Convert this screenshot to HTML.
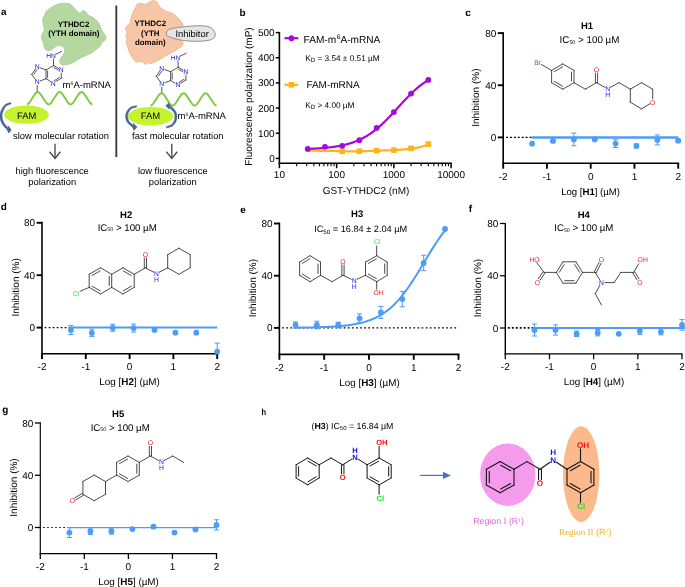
<!DOCTYPE html>
<html><head><meta charset="utf-8"><title>figure</title>
<style>html,body{margin:0;padding:0;background:#fff}svg{display:block;will-change:transform}text{font-family:"Liberation Sans",sans-serif}</style>
</head><body>
<svg width="685" height="587" viewBox="0 0 685 587" text-rendering="geometricPrecision" font-family="Liberation Sans, sans-serif">
<rect width="685" height="587" fill="#fff"/>
<text x="0.90" y="15.10" font-size="9.9" text-anchor="start" font-weight="bold" fill="#000" >a</text>
<path d="M57.1,4.5C58.4,4.0 59.1,3.8 60.6,3.6C62.1,3.4 64.4,3.2 66.0,3.3C67.6,3.4 69.2,3.8 70.2,4.2C71.2,4.7 71.5,5.3 72.2,6.0C72.9,6.7 73.5,7.3 74.3,8.1C75.0,8.8 75.9,9.7 76.7,10.5C77.5,11.3 78.5,12.7 79.3,12.9C80.1,13.1 80.8,12.3 81.5,11.9C82.2,11.5 82.9,10.5 83.6,10.5C84.3,10.5 85.1,11.2 85.7,11.9C86.3,12.6 86.7,13.8 87.4,14.5C88.1,15.2 89.1,15.5 90.1,16.1C91.1,16.7 92.2,17.1 93.4,17.9C94.6,18.7 96.0,19.8 97.0,20.9C98.0,22.0 98.8,23.1 99.4,24.4C100.0,25.7 100.2,27.3 100.8,28.6C101.4,29.9 102.2,31.0 102.9,32.2C103.7,33.4 104.8,34.8 105.3,35.8C105.8,36.8 106.1,37.5 105.9,38.4C105.7,39.3 104.8,40.5 104.1,41.1C103.4,41.8 102.2,41.7 101.7,42.3C101.2,42.9 101.2,43.9 100.8,44.7C100.4,45.5 100.0,46.5 99.4,47.1C98.8,47.8 97.8,48.0 97.0,48.6C96.2,49.2 95.5,50.0 94.6,50.7C93.7,51.4 92.6,52.4 91.6,53.0C90.6,53.6 89.7,53.7 88.6,54.2C87.5,54.7 86.2,55.3 85.1,55.8C84.0,56.3 83.2,56.7 82.1,57.2C81.0,57.7 79.7,58.3 78.5,59.0C77.3,59.7 76.1,60.7 74.9,61.4C73.7,62.1 72.7,62.7 71.4,63.2C70.1,63.7 68.6,64.3 67.2,64.6C65.8,64.9 64.1,65.1 63.0,65.0C61.9,64.9 61.1,64.5 60.6,63.8C60.1,63.1 59.6,61.9 59.8,60.8C59.9,59.7 60.9,58.3 61.5,57.2C62.1,56.1 63.1,55.2 63.6,54.2C64.2,53.2 64.7,52.3 64.8,51.3C64.9,50.3 64.6,49.1 64.2,48.3C63.8,47.4 63.0,46.7 62.2,46.2C61.4,45.7 60.4,45.3 59.4,45.3C58.4,45.2 57.5,45.4 56.5,45.9C55.5,46.4 54.5,47.6 53.5,48.3C52.5,49.0 51.5,49.7 50.5,50.1C49.5,50.5 48.4,50.9 47.5,50.7C46.6,50.5 45.7,49.7 45.1,48.9C44.5,48.1 44.2,47.0 43.9,45.9C43.6,44.8 43.6,43.4 43.3,42.3C43.0,41.2 42.2,40.4 41.9,39.3C41.6,38.2 41.4,37.0 41.6,35.8C41.8,34.6 42.6,33.3 43.1,32.2C43.6,31.1 44.4,30.2 44.5,29.2C44.6,28.2 43.8,27.2 43.6,26.2C43.4,25.2 43.2,24.3 43.1,23.2C43.0,22.1 42.6,20.8 42.7,19.7C42.8,18.6 43.2,17.6 43.6,16.7C44.0,15.8 44.7,15.2 45.1,14.3C45.5,13.4 45.6,12.2 46.3,11.3C47.0,10.4 48.2,9.7 49.3,8.9C50.4,8.1 51.6,7.3 52.9,6.6C54.2,5.9 55.8,5.0 57.1,4.5Z" fill="#b5d8a1" stroke="#a5cf90" stroke-width="0.9"/>
<text x="73.60" y="26.60" font-size="7.9" text-anchor="middle" font-weight="bold" fill="#000" >YTHDC2</text>
<text x="73.80" y="36.30" font-size="7.9" text-anchor="middle" font-weight="bold" fill="#000" >(YTH domain)</text>
<line x1="53.40" y1="58.80" x2="53.60" y2="65.50" stroke="#2b2b2b" stroke-width="0.8" stroke-linecap="round"/>
<line x1="55.80" y1="54.30" x2="61.60" y2="51.40" stroke="#2b2b2b" stroke-width="0.8" stroke-linecap="round"/>
<line x1="53.60" y1="65.50" x2="61.30" y2="69.90" stroke="#2b2b2b" stroke-width="0.8" stroke-linecap="round"/>
<line x1="53.88" y1="67.51" x2="59.43" y2="70.67" stroke="#2b2b2b" stroke-width="0.8" stroke-linecap="round"/>
<line x1="53.60" y1="65.50" x2="61.30" y2="69.90" stroke="#fff" stroke-width="0" stroke-linecap="round"/>
<line x1="61.30" y1="72.70" x2="61.30" y2="78.20" stroke="#2b2b2b" stroke-width="0.8" stroke-linecap="round"/>
<line x1="61.30" y1="78.20" x2="53.30" y2="83.10" stroke="#2b2b2b" stroke-width="0.8" stroke-linecap="round"/>
<line x1="59.34" y1="77.52" x2="53.58" y2="81.05" stroke="#2b2b2b" stroke-width="0.8" stroke-linecap="round"/>
<line x1="50.73" y1="81.55" x2="46.00" y2="78.70" stroke="#2b2b2b" stroke-width="0.8" stroke-linecap="round"/>
<line x1="46.00" y1="78.70" x2="46.00" y2="69.90" stroke="#2b2b2b" stroke-width="0.8" stroke-linecap="round"/>
<line x1="47.60" y1="77.47" x2="47.60" y2="71.13" stroke="#2b2b2b" stroke-width="0.8" stroke-linecap="round"/>
<line x1="46.00" y1="69.90" x2="53.60" y2="65.50" stroke="#2b2b2b" stroke-width="0.8" stroke-linecap="round"/>
<line x1="46.00" y1="69.90" x2="40.02" y2="67.73" stroke="#2b2b2b" stroke-width="0.8" stroke-linecap="round"/>
<line x1="37.20" y1="66.70" x2="31.70" y2="74.30" stroke="#2b2b2b" stroke-width="0.8" stroke-linecap="round"/>
<line x1="37.73" y1="68.70" x2="33.77" y2="74.17" stroke="#2b2b2b" stroke-width="0.8" stroke-linecap="round"/>
<line x1="31.70" y1="74.30" x2="35.46" y2="79.56" stroke="#2b2b2b" stroke-width="0.8" stroke-linecap="round"/>
<line x1="40.01" y1="80.95" x2="46.00" y2="78.70" stroke="#2b2b2b" stroke-width="0.8" stroke-linecap="round"/>
<line x1="37.20" y1="85.20" x2="37.20" y2="91.50" stroke="#2b2b2b" stroke-width="0.8" stroke-linecap="round"/>
<circle cx="61.30" cy="69.90" r="2.7" fill="#fff"/>
<text x="61.30" y="72.35" font-size="6.8" text-anchor="middle" font-weight="normal" fill="#1818f5" >N</text>
<circle cx="53.30" cy="83.10" r="2.7" fill="#fff"/>
<text x="53.30" y="85.55" font-size="6.8" text-anchor="middle" font-weight="normal" fill="#1818f5" >N</text>
<circle cx="37.20" cy="66.70" r="2.7" fill="#fff"/>
<text x="37.20" y="69.15" font-size="6.8" text-anchor="middle" font-weight="normal" fill="#1818f5" >N</text>
<circle cx="37.20" cy="82.00" r="2.7" fill="#fff"/>
<text x="37.20" y="84.45" font-size="6.8" text-anchor="middle" font-weight="normal" fill="#1818f5" >N</text>
<text x="51.00" y="57.71" font-size="6.7" text-anchor="middle" font-weight="normal" fill="#1818f5" >HN</text>
<text x="62.6" y="88" font-size="9.5" fill="#000">m<tspan font-size="5.2" dy="-3">6</tspan><tspan dy="3">A-mRNA</tspan></text>
<polyline points="26.80,104.40 27.35,104.31 27.89,104.03 28.44,103.59 28.99,103.01 29.54,102.33 30.09,101.57 30.63,100.75 31.18,99.91 31.73,99.06 32.27,98.20 32.82,97.34 33.37,96.49 33.92,95.65 34.47,94.83 35.01,94.07 35.56,93.39 36.11,92.81 36.66,92.37 37.20,92.09 37.75,92.00 38.30,92.09 38.84,92.37 39.39,92.81 39.94,93.39 40.49,94.07 41.03,94.83 41.58,95.65 42.13,96.49 42.68,97.34 43.22,98.20 43.77,99.06 44.32,99.91 44.87,100.75 45.41,101.57 45.96,102.33 46.51,103.01 47.06,103.59 47.60,104.03 48.15,104.31 48.70,104.40 49.25,104.31 49.80,104.03 50.34,103.59 50.89,103.01 51.44,102.33 51.98,101.57 52.53,100.75 53.08,99.91 53.63,99.06 54.17,98.20 54.72,97.34 55.27,96.49 55.82,95.65 56.37,94.83 56.91,94.07 57.46,93.39 58.01,92.81 58.55,92.37 59.10,92.09 59.65,92.00 60.20,92.09 60.75,92.37 61.29,92.81 61.84,93.39 62.39,94.07 62.94,94.83 63.48,95.65 64.03,96.49 64.58,97.34 65.12,98.20 65.67,99.06 66.22,99.91 66.77,100.75 67.31,101.57 67.86,102.33 68.41,103.01 68.96,103.59 69.50,104.03 70.05,104.31 70.60,104.40 71.15,104.31 71.69,104.03 72.24,103.59 72.79,103.01 73.34,102.33 73.88,101.57 74.43,100.75 74.98,99.91 75.53,99.06 76.08,98.20 76.62,97.34 77.17,96.49 77.72,95.65 78.27,94.83 78.81,94.07 79.36,93.39 79.91,92.81 80.45,92.37 81.00,92.09 81.55,92.00 82.10,92.09 82.64,92.37 83.19,92.81 83.74,93.39 84.29,94.07 84.83,94.83 85.38,95.65 85.93,96.49 86.48,97.34 87.02,98.20 87.57,99.06 88.12,99.91 88.67,100.75 89.22,101.57 89.76,102.33 90.31,103.01 90.86,103.59 91.41,104.03 91.95,104.31 92.50,104.40" fill="none" stroke="#80c93c" stroke-width="1.9" stroke-linecap="butt"/>
<ellipse cx="26.5" cy="114.7" rx="22.4" ry="9.1" fill="#c4f22f"/>
<text x="26.60" y="118.50" font-size="9.4" text-anchor="middle" font-weight="normal" fill="#000" >FAM</text>
<path d="M10.72,102.60 L10.48,102.67 L10.16,102.74 L9.77,102.84 L9.32,102.94 L8.83,103.07 L8.30,103.21 L7.76,103.38 L7.21,103.57 L6.66,103.79 L6.13,104.05 L5.62,104.34 L5.15,104.68 L4.72,105.06 L4.33,105.46 L3.94,105.90 L3.58,106.36 L3.23,106.84 L2.90,107.34 L2.58,107.85 L2.29,108.36 L2.01,108.88 L1.75,109.39 L1.51,109.90 L1.29,110.38 L1.08,110.87 L0.89,111.35 L0.72,111.83 L0.56,112.32 L0.42,112.82 L0.29,113.32 L0.19,113.83 L0.11,114.35 L0.05,114.87 L0.01,115.41 L-0.00,115.95 L0.01,116.50 L0.04,117.06 L0.10,117.63 L0.18,118.22 L0.28,118.81 L0.40,119.40 L0.55,120.00 L0.72,120.60 L0.90,121.20 L1.11,121.79 L1.35,122.37 L1.60,122.94 L1.89,123.51 L2.23,124.09 L2.62,124.67 L3.06,125.26 L3.52,125.84 L4.00,126.40 L4.48,126.94 L4.95,127.46 L5.41,127.94 L5.82,128.38 L6.19,128.76 L6.49,129.08 L6.72,129.33 L8.76,133.00 L11.38,130.03 L8.14,125.82 L8.17,128.09 L7.93,127.80 L7.62,127.45 L7.26,127.04 L6.86,126.60 L6.43,126.12 L5.98,125.61 L5.53,125.09 L5.10,124.55 L4.68,124.02 L4.30,123.50 L3.98,123.00 L3.72,122.53 L3.49,122.06 L3.27,121.56 L3.07,121.05 L2.89,120.53 L2.73,120.01 L2.58,119.47 L2.45,118.94 L2.35,118.42 L2.25,117.89 L2.18,117.38 L2.13,116.88 L2.09,116.40 L2.08,115.94 L2.08,115.49 L2.11,115.05 L2.15,114.61 L2.21,114.18 L2.29,113.75 L2.38,113.32 L2.50,112.89 L2.62,112.46 L2.76,112.02 L2.92,111.58 L3.09,111.14 L3.28,110.68 L3.48,110.21 L3.71,109.74 L3.95,109.25 L4.20,108.78 L4.47,108.31 L4.75,107.85 L5.03,107.41 L5.33,107.00 L5.63,106.62 L5.94,106.28 L6.24,105.98 L6.55,105.73 L6.93,105.48 L7.35,105.26 L7.80,105.04 L8.28,104.85 L8.77,104.67 L9.25,104.51 L9.72,104.36 L10.15,104.22 L10.55,104.10 L10.90,103.98 L11.17,103.87Z" fill="#4b6597" stroke="#2f5597" stroke-width="0.45" stroke-linejoin="round"/>
<text x="61.00" y="139.10" font-size="9.4" text-anchor="middle" font-weight="normal" fill="#000" >slow molecular rotation</text>
<line x1="55.00" y1="143.70" x2="55.00" y2="158.40" stroke="#4a4a4a" stroke-width="1.35" />
<path d="M49.6,151.8 L55,158.4 L60.4,151.8" fill="none" stroke="#4a4a4a" stroke-width="1.35"/>
<text x="52.20" y="173.70" font-size="9.35" text-anchor="middle" font-weight="normal" fill="#000" >high fluorescence</text>
<text x="52.20" y="185.00" font-size="9.35" text-anchor="middle" font-weight="normal" fill="#000" >polarization</text>
<line x1="116.30" y1="5.50" x2="116.30" y2="157.00" stroke="#3c3c3c" stroke-width="1.9" />
<path d="M137.9,3.6C138.8,3.2 140.8,3.6 142.1,3.8C143.4,3.9 144.5,4.7 145.6,4.5C146.7,4.3 147.5,3.2 148.6,2.6C149.7,2.0 150.7,1.2 151.9,1.0C153.1,0.8 154.8,0.8 155.8,1.2C156.8,1.6 157.3,2.7 157.9,3.6C158.5,4.5 158.7,5.8 159.3,6.6C159.9,7.4 160.8,7.9 161.7,8.6C162.6,9.2 163.7,9.9 164.7,10.5C165.7,11.1 166.7,11.6 167.7,11.9C168.7,12.2 169.7,12.1 170.7,12.5C171.7,12.9 172.6,13.4 173.6,14.1C174.6,14.8 175.6,15.8 176.6,16.7C177.6,17.6 178.6,18.8 179.4,19.7C180.2,20.6 181.1,21.5 181.7,22.4C182.3,23.2 183.2,24.0 183.2,24.8C183.1,25.6 182.2,26.7 181.4,27.2C180.6,27.7 179.6,27.8 178.4,28.0C177.2,28.2 175.5,28.3 174.2,28.4C172.9,28.5 171.8,28.5 170.7,28.8C169.6,29.1 168.4,29.6 167.7,30.4C166.9,31.2 166.2,32.4 166.2,33.4C166.1,34.4 166.7,35.6 167.4,36.4C168.2,37.1 169.6,37.6 170.7,37.9C171.8,38.2 172.9,38.2 174.2,38.4C175.5,38.6 177.2,38.8 178.4,39.3C179.7,39.8 180.9,40.5 181.7,41.1C182.5,41.7 183.1,42.1 183.2,42.9C183.2,43.7 182.6,45.1 182.0,45.9C181.4,46.7 180.6,47.0 179.6,47.7C178.6,48.4 177.2,49.4 176.0,50.1C174.8,50.9 173.6,51.5 172.4,52.2C171.2,52.9 170.1,53.6 168.9,54.2C167.7,54.8 166.5,55.3 165.3,56.0C164.1,56.7 162.9,57.5 161.7,58.2C160.5,58.9 159.3,59.5 158.1,60.2C156.9,60.9 155.8,61.7 154.6,62.2C153.4,62.7 152.1,63.3 151.0,63.4C149.9,63.5 148.9,62.4 148.0,62.6C147.1,62.8 146.5,64.5 145.6,64.4C144.7,64.3 143.7,62.5 142.6,62.0C141.5,61.5 140.2,61.4 139.1,61.4C138.0,61.4 137.0,62.3 136.1,62.0C135.2,61.7 134.4,60.3 133.7,59.4C133.0,58.5 132.3,57.6 131.7,56.6C131.1,55.6 130.6,54.7 130.1,53.6C129.6,52.5 129.0,51.3 128.6,50.1C128.2,48.9 128.1,47.7 127.7,46.5C127.3,45.3 126.3,44.1 126.2,42.9C126.1,41.7 127.2,40.5 127.2,39.3C127.2,38.1 126.0,37.0 126.0,35.8C126.0,34.6 127.0,33.4 126.9,32.2C126.8,31.0 125.4,29.7 125.4,28.6C125.5,27.5 126.5,26.5 127.2,25.6C127.9,24.7 129.2,24.2 129.8,23.2C130.4,22.2 130.3,20.9 130.7,19.7C131.0,18.5 131.5,17.3 131.9,16.1C132.3,14.9 132.4,13.7 132.9,12.5C133.4,11.3 134.3,10.0 134.9,8.9C135.5,7.8 135.9,6.9 136.4,6.0C136.9,5.1 137.0,4.0 137.9,3.6Z" fill="#f7c6a6" stroke="#f0b088" stroke-width="0.9"/>
<text x="150.30" y="25.80" font-size="7.9" text-anchor="middle" font-weight="bold" fill="#000" >YTHDC2</text>
<text x="150.30" y="35.60" font-size="7.9" text-anchor="middle" font-weight="bold" fill="#000" >(YTH</text>
<text x="150.30" y="45.20" font-size="7.9" text-anchor="middle" font-weight="bold" fill="#000" >domain)</text>
<path d="M166.3,33.0C166.4,32.3 166.6,31.5 167.3,30.8C168.1,30.1 168.6,29.5 170.8,28.9C173.0,28.3 176.3,27.6 180.5,27.1C184.7,26.6 191.6,26.0 195.9,25.8C200.2,25.6 203.4,25.7 206.1,26.2C208.8,26.7 210.7,27.5 212.2,28.8C213.7,30.1 214.9,32.4 215.2,33.9C215.5,35.4 215.0,36.9 213.8,38.0C212.6,39.1 211.1,39.9 208.1,40.4C205.1,40.9 200.2,41.3 195.9,41.3C191.7,41.3 186.3,40.9 182.6,40.4C178.8,39.9 175.8,38.9 173.4,38.2C171.0,37.5 169.3,36.8 168.2,36.2C167.1,35.6 166.9,35.3 166.6,34.8C166.3,34.3 166.2,33.7 166.3,33.0Z" fill="#e5e5e5" stroke="#8f8f8f" stroke-width="1.0"/>
<text x="192.10" y="36.80" font-size="9.4" text-anchor="middle" font-weight="normal" fill="#000" >Inhibitor</text>
<line x1="178.00" y1="60.60" x2="178.20" y2="67.30" stroke="#2b2b2b" stroke-width="0.8" stroke-linecap="round"/>
<line x1="180.40" y1="56.10" x2="186.20" y2="53.20" stroke="#2b2b2b" stroke-width="0.8" stroke-linecap="round"/>
<line x1="178.20" y1="67.30" x2="185.90" y2="71.70" stroke="#2b2b2b" stroke-width="0.8" stroke-linecap="round"/>
<line x1="178.48" y1="69.31" x2="184.03" y2="72.47" stroke="#2b2b2b" stroke-width="0.8" stroke-linecap="round"/>
<line x1="178.20" y1="67.30" x2="185.90" y2="71.70" stroke="#fff" stroke-width="0" stroke-linecap="round"/>
<line x1="185.90" y1="74.50" x2="185.90" y2="80.00" stroke="#2b2b2b" stroke-width="0.8" stroke-linecap="round"/>
<line x1="185.90" y1="80.00" x2="177.90" y2="84.90" stroke="#2b2b2b" stroke-width="0.8" stroke-linecap="round"/>
<line x1="183.94" y1="79.32" x2="178.18" y2="82.85" stroke="#2b2b2b" stroke-width="0.8" stroke-linecap="round"/>
<line x1="175.33" y1="83.35" x2="170.60" y2="80.50" stroke="#2b2b2b" stroke-width="0.8" stroke-linecap="round"/>
<line x1="170.60" y1="80.50" x2="170.60" y2="71.70" stroke="#2b2b2b" stroke-width="0.8" stroke-linecap="round"/>
<line x1="172.20" y1="79.27" x2="172.20" y2="72.93" stroke="#2b2b2b" stroke-width="0.8" stroke-linecap="round"/>
<line x1="170.60" y1="71.70" x2="178.20" y2="67.30" stroke="#2b2b2b" stroke-width="0.8" stroke-linecap="round"/>
<line x1="170.60" y1="71.70" x2="164.62" y2="69.53" stroke="#2b2b2b" stroke-width="0.8" stroke-linecap="round"/>
<line x1="161.80" y1="68.50" x2="156.30" y2="76.10" stroke="#2b2b2b" stroke-width="0.8" stroke-linecap="round"/>
<line x1="162.33" y1="70.50" x2="158.37" y2="75.97" stroke="#2b2b2b" stroke-width="0.8" stroke-linecap="round"/>
<line x1="156.30" y1="76.10" x2="160.06" y2="81.36" stroke="#2b2b2b" stroke-width="0.8" stroke-linecap="round"/>
<line x1="164.61" y1="82.75" x2="170.60" y2="80.50" stroke="#2b2b2b" stroke-width="0.8" stroke-linecap="round"/>
<line x1="161.80" y1="87.00" x2="161.80" y2="93.30" stroke="#2b2b2b" stroke-width="0.8" stroke-linecap="round"/>
<circle cx="185.90" cy="71.70" r="2.7" fill="#fff"/>
<text x="185.90" y="74.15" font-size="6.8" text-anchor="middle" font-weight="normal" fill="#1818f5" >N</text>
<circle cx="177.90" cy="84.90" r="2.7" fill="#fff"/>
<text x="177.90" y="87.35" font-size="6.8" text-anchor="middle" font-weight="normal" fill="#1818f5" >N</text>
<circle cx="161.80" cy="68.50" r="2.7" fill="#fff"/>
<text x="161.80" y="70.95" font-size="6.8" text-anchor="middle" font-weight="normal" fill="#1818f5" >N</text>
<circle cx="161.80" cy="83.80" r="2.7" fill="#fff"/>
<text x="161.80" y="86.25" font-size="6.8" text-anchor="middle" font-weight="normal" fill="#1818f5" >N</text>
<text x="175.60" y="59.51" font-size="6.7" text-anchor="middle" font-weight="normal" fill="#1818f5" >HN</text>
<polyline points="150.50,105.60 151.05,105.51 151.60,105.23 152.15,104.79 152.71,104.21 153.26,103.53 153.81,102.77 154.36,101.95 154.91,101.11 155.46,100.26 156.01,99.40 156.56,98.54 157.12,97.69 157.67,96.85 158.22,96.03 158.77,95.27 159.32,94.59 159.87,94.01 160.42,93.57 160.97,93.29 161.53,93.20 162.08,93.29 162.63,93.57 163.18,94.01 163.73,94.59 164.28,95.27 164.83,96.03 165.38,96.85 165.94,97.69 166.49,98.54 167.04,99.40 167.59,100.26 168.14,101.11 168.69,101.95 169.24,102.77 169.79,103.53 170.34,104.21 170.90,104.79 171.45,105.23 172.00,105.51 172.55,105.60 173.10,105.51 173.65,105.23 174.20,104.79 174.75,104.21 175.31,103.53 175.86,102.77 176.41,101.95 176.96,101.11 177.51,100.26 178.06,99.40 178.61,98.54 179.16,97.69 179.72,96.85 180.27,96.03 180.82,95.27 181.37,94.59 181.92,94.01 182.47,93.57 183.02,93.29 183.57,93.20 184.13,93.29 184.68,93.57 185.23,94.01 185.78,94.59 186.33,95.27 186.88,96.03 187.43,96.85 187.99,97.69 188.54,98.54 189.09,99.40 189.64,100.26 190.19,101.11 190.74,101.95 191.29,102.77 191.84,103.53 192.39,104.21 192.95,104.79 193.50,105.23 194.05,105.51 194.60,105.60 195.15,105.51 195.70,105.23 196.25,104.79 196.81,104.21 197.36,103.53 197.91,102.77 198.46,101.95 199.01,101.11 199.56,100.26 200.11,99.40 200.66,98.54 201.22,97.69 201.77,96.85 202.32,96.03 202.87,95.27 203.42,94.59 203.97,94.01 204.52,93.57 205.07,93.29 205.62,93.20 206.18,93.29 206.73,93.57 207.28,94.01 207.83,94.59 208.38,95.27 208.93,96.03 209.48,96.85 210.03,97.69 210.59,98.54 211.14,99.40 211.69,100.26 212.24,101.11 212.79,101.95 213.34,102.77 213.89,103.53 214.44,104.21 215.00,104.79 215.55,105.23 216.10,105.51 216.65,105.60" fill="none" stroke="#80c93c" stroke-width="1.9" stroke-linecap="butt"/>
<ellipse cx="150.6" cy="116.2" rx="22.6" ry="9.3" fill="#c4f22f"/>
<text x="150.50" y="119.40" font-size="9.5" text-anchor="middle" font-weight="normal" fill="#000" >FAM</text>
<path d="M136.48,105.73 L136.21,105.78 L135.86,105.83 L135.44,105.89 L134.95,105.96 L134.42,106.04 L133.85,106.14 L133.27,106.25 L132.68,106.39 L132.09,106.55 L131.52,106.74 L130.98,106.98 L130.48,107.25 L130.03,107.56 L129.61,107.90 L129.22,108.27 L128.84,108.67 L128.48,109.08 L128.14,109.51 L127.83,109.95 L127.53,110.39 L127.25,110.83 L127.00,111.26 L126.77,111.69 L126.56,112.10 L126.36,112.51 L126.19,112.92 L126.04,113.34 L125.91,113.76 L125.81,114.18 L125.72,114.60 L125.65,115.02 L125.61,115.45 L125.58,115.87 L125.57,116.30 L125.59,116.73 L125.62,117.16 L125.66,117.60 L125.72,118.04 L125.80,118.48 L125.90,118.93 L126.01,119.39 L126.15,119.85 L126.31,120.31 L126.49,120.77 L126.69,121.22 L126.92,121.67 L127.18,122.12 L127.47,122.56 L127.81,123.02 L128.21,123.47 L128.65,123.92 L129.12,124.37 L129.60,124.80 L130.08,125.22 L130.56,125.62 L131.01,125.99 L131.43,126.33 L131.79,126.62 L132.09,126.87 L132.32,127.06 L134.01,130.38 L136.99,126.96 L133.13,123.02 L133.60,125.64 L133.36,125.41 L133.05,125.13 L132.68,124.82 L132.28,124.47 L131.85,124.10 L131.40,123.71 L130.95,123.30 L130.52,122.89 L130.10,122.48 L129.73,122.09 L129.42,121.72 L129.17,121.38 L128.96,121.04 L128.76,120.69 L128.58,120.33 L128.42,119.96 L128.27,119.59 L128.15,119.21 L128.04,118.83 L127.94,118.46 L127.86,118.08 L127.79,117.70 L127.74,117.33 L127.69,116.97 L127.67,116.62 L127.65,116.27 L127.65,115.93 L127.66,115.60 L127.69,115.27 L127.73,114.94 L127.79,114.61 L127.86,114.28 L127.95,113.95 L128.06,113.61 L128.18,113.27 L128.33,112.93 L128.50,112.56 L128.69,112.18 L128.90,111.78 L129.13,111.38 L129.37,110.98 L129.63,110.59 L129.91,110.21 L130.19,109.85 L130.49,109.51 L130.79,109.19 L131.10,108.91 L131.41,108.67 L131.74,108.46 L132.14,108.27 L132.60,108.09 L133.10,107.92 L133.63,107.77 L134.17,107.64 L134.70,107.51 L135.21,107.41 L135.69,107.31 L136.12,107.21 L136.50,107.12 L136.79,107.04Z" fill="#4b6597" stroke="#2f5597" stroke-width="0.45" stroke-linejoin="round"/>
<path d="M166.60,127.87 L166.85,127.81 L167.17,127.75 L167.57,127.67 L168.02,127.58 L168.51,127.47 L169.03,127.35 L169.57,127.21 L170.11,127.06 L170.65,126.88 L171.18,126.68 L171.68,126.44 L172.14,126.18 L172.55,125.88 L172.94,125.57 L173.32,125.23 L173.67,124.87 L174.01,124.49 L174.33,124.10 L174.64,123.71 L174.92,123.30 L175.19,122.90 L175.44,122.49 L175.67,122.09 L175.87,121.69 L176.06,121.29 L176.23,120.88 L176.38,120.47 L176.51,120.05 L176.62,119.64 L176.71,119.22 L176.78,118.80 L176.84,118.38 L176.88,117.96 L176.90,117.53 L176.91,117.11 L176.91,116.69 L176.90,116.28 L176.88,115.86 L176.85,115.43 L176.81,114.99 L176.75,114.55 L176.67,114.09 L176.57,113.63 L176.45,113.17 L176.29,112.70 L176.10,112.23 L175.88,111.76 L175.62,111.28 L175.29,110.79 L174.91,110.29 L174.48,109.78 L174.01,109.28 L173.53,108.78 L173.05,108.30 L172.57,107.84 L172.11,107.40 L171.68,107.01 L171.31,106.67 L171.00,106.38 L170.77,106.15 L168.42,103.06 L165.80,105.95 L169.56,109.36 L169.40,107.49 L169.64,107.75 L169.96,108.07 L170.33,108.43 L170.74,108.83 L171.17,109.27 L171.63,109.72 L172.08,110.19 L172.52,110.66 L172.94,111.13 L173.30,111.57 L173.61,111.98 L173.84,112.34 L174.02,112.69 L174.19,113.05 L174.32,113.41 L174.44,113.77 L174.53,114.13 L174.61,114.49 L174.67,114.86 L174.72,115.23 L174.76,115.60 L174.79,115.98 L174.81,116.36 L174.82,116.74 L174.83,117.11 L174.83,117.47 L174.81,117.82 L174.79,118.17 L174.75,118.51 L174.70,118.86 L174.64,119.19 L174.57,119.53 L174.48,119.86 L174.37,120.19 L174.25,120.52 L174.11,120.85 L173.95,121.19 L173.76,121.55 L173.56,121.91 L173.35,122.27 L173.11,122.63 L172.87,122.99 L172.61,123.33 L172.34,123.66 L172.06,123.98 L171.77,124.27 L171.48,124.54 L171.19,124.77 L170.87,124.98 L170.50,125.18 L170.07,125.37 L169.61,125.55 L169.12,125.72 L168.63,125.87 L168.14,126.02 L167.67,126.15 L167.23,126.27 L166.83,126.38 L166.49,126.48 L166.22,126.58Z" fill="#4b6597" stroke="#2f5597" stroke-width="0.45" stroke-linejoin="round"/>
<text x="177.6" y="119.4" font-size="9.5" fill="#000">m<tspan font-size="5.2" dy="-3">6</tspan><tspan dy="3">A-mRNA</tspan></text>
<text x="177.80" y="139.10" font-size="9.3" text-anchor="middle" font-weight="normal" fill="#000" >fast molecular rotation</text>
<line x1="171.80" y1="143.70" x2="171.80" y2="158.40" stroke="#4a4a4a" stroke-width="1.35" />
<path d="M166.4,151.8 L171.8,158.4 L177.20000000000002,151.8" fill="none" stroke="#4a4a4a" stroke-width="1.35"/>
<text x="172.80" y="173.70" font-size="9.35" text-anchor="middle" font-weight="normal" fill="#000" >low fluorescence</text>
<text x="172.70" y="185.00" font-size="9.35" text-anchor="middle" font-weight="normal" fill="#000" >polarization</text>
<text x="239.60" y="16.20" font-size="10" text-anchor="start" font-weight="bold" fill="#000" >b</text>
<line x1="279.40" y1="31.90" x2="279.40" y2="164.05" stroke="#000" stroke-width="1.6" />
<line x1="278.75" y1="163.30" x2="451.85" y2="163.30" stroke="#000" stroke-width="1.5" />
<line x1="275.80" y1="158.40" x2="279.40" y2="158.40" stroke="#000" stroke-width="1.5" />
<text x="274.70" y="161.95" font-size="10" text-anchor="end" font-weight="normal" fill="#000" >0</text>
<line x1="275.80" y1="133.24" x2="279.40" y2="133.24" stroke="#000" stroke-width="1.5" />
<text x="274.70" y="136.79" font-size="10" text-anchor="end" font-weight="normal" fill="#000" >100</text>
<line x1="275.80" y1="108.08" x2="279.40" y2="108.08" stroke="#000" stroke-width="1.5" />
<text x="274.70" y="111.63" font-size="10" text-anchor="end" font-weight="normal" fill="#000" >200</text>
<line x1="275.80" y1="82.92" x2="279.40" y2="82.92" stroke="#000" stroke-width="1.5" />
<text x="274.70" y="86.47" font-size="10" text-anchor="end" font-weight="normal" fill="#000" >300</text>
<line x1="275.80" y1="57.76" x2="279.40" y2="57.76" stroke="#000" stroke-width="1.5" />
<text x="274.70" y="61.31" font-size="10" text-anchor="end" font-weight="normal" fill="#000" >400</text>
<line x1="275.80" y1="32.60" x2="279.40" y2="32.60" stroke="#000" stroke-width="1.5" />
<text x="274.70" y="36.15" font-size="10" text-anchor="end" font-weight="normal" fill="#000" >500</text>
<line x1="279.40" y1="163.30" x2="279.40" y2="168.20" stroke="#000" stroke-width="1.5" />
<text x="279.40" y="177.60" font-size="10" text-anchor="middle" font-weight="normal" fill="#000" >10</text>
<line x1="296.63" y1="163.30" x2="296.63" y2="166.20" stroke="#000" stroke-width="1.1" />
<line x1="306.71" y1="163.30" x2="306.71" y2="166.20" stroke="#000" stroke-width="1.1" />
<line x1="313.86" y1="163.30" x2="313.86" y2="166.20" stroke="#000" stroke-width="1.1" />
<line x1="319.40" y1="163.30" x2="319.40" y2="166.20" stroke="#000" stroke-width="1.1" />
<line x1="323.93" y1="163.30" x2="323.93" y2="166.20" stroke="#000" stroke-width="1.1" />
<line x1="327.76" y1="163.30" x2="327.76" y2="166.20" stroke="#000" stroke-width="1.1" />
<line x1="331.08" y1="163.30" x2="331.08" y2="166.20" stroke="#000" stroke-width="1.1" />
<line x1="334.01" y1="163.30" x2="334.01" y2="166.20" stroke="#000" stroke-width="1.1" />
<line x1="336.63" y1="163.30" x2="336.63" y2="168.20" stroke="#000" stroke-width="1.5" />
<text x="336.63" y="177.60" font-size="10" text-anchor="middle" font-weight="normal" fill="#000" >100</text>
<line x1="353.86" y1="163.30" x2="353.86" y2="166.20" stroke="#000" stroke-width="1.1" />
<line x1="363.94" y1="163.30" x2="363.94" y2="166.20" stroke="#000" stroke-width="1.1" />
<line x1="371.09" y1="163.30" x2="371.09" y2="166.20" stroke="#000" stroke-width="1.1" />
<line x1="376.63" y1="163.30" x2="376.63" y2="166.20" stroke="#000" stroke-width="1.1" />
<line x1="381.16" y1="163.30" x2="381.16" y2="166.20" stroke="#000" stroke-width="1.1" />
<line x1="384.99" y1="163.30" x2="384.99" y2="166.20" stroke="#000" stroke-width="1.1" />
<line x1="388.31" y1="163.30" x2="388.31" y2="166.20" stroke="#000" stroke-width="1.1" />
<line x1="391.24" y1="163.30" x2="391.24" y2="166.20" stroke="#000" stroke-width="1.1" />
<line x1="393.86" y1="163.30" x2="393.86" y2="168.20" stroke="#000" stroke-width="1.5" />
<text x="393.86" y="177.60" font-size="10" text-anchor="middle" font-weight="normal" fill="#000" >1000</text>
<line x1="411.09" y1="163.30" x2="411.09" y2="166.20" stroke="#000" stroke-width="1.1" />
<line x1="421.17" y1="163.30" x2="421.17" y2="166.20" stroke="#000" stroke-width="1.1" />
<line x1="428.32" y1="163.30" x2="428.32" y2="166.20" stroke="#000" stroke-width="1.1" />
<line x1="433.86" y1="163.30" x2="433.86" y2="166.20" stroke="#000" stroke-width="1.1" />
<line x1="438.39" y1="163.30" x2="438.39" y2="166.20" stroke="#000" stroke-width="1.1" />
<line x1="442.22" y1="163.30" x2="442.22" y2="166.20" stroke="#000" stroke-width="1.1" />
<line x1="445.54" y1="163.30" x2="445.54" y2="166.20" stroke="#000" stroke-width="1.1" />
<line x1="448.47" y1="163.30" x2="448.47" y2="166.20" stroke="#000" stroke-width="1.1" />
<line x1="451.09" y1="163.30" x2="451.09" y2="168.20" stroke="#000" stroke-width="1.5" />
<text x="451.09" y="177.60" font-size="10" text-anchor="middle" font-weight="normal" fill="#000" >10000</text>
<text x="366.00" y="194.00" font-size="10" text-anchor="middle" font-weight="normal" fill="#000" >GST-YTHDC2 (nM)</text>
<text transform="translate(251.8,96.5) rotate(-90)" font-size="10" text-anchor="middle" fill="#000">Fluorescence polarization (mP)</text>
<polyline points="307.72,150.73 308.93,150.73 310.13,150.74 311.34,150.74 312.54,150.74 313.75,150.75 314.96,150.75 316.16,150.76 317.37,150.76 318.57,150.77 319.78,150.78 320.99,150.79 322.19,150.80 323.40,150.81 324.60,150.83 325.81,150.85 327.02,150.86 328.22,150.88 329.43,150.90 330.63,150.93 331.84,150.95 333.05,150.97 334.25,151.00 335.46,151.03 336.66,151.05 337.87,151.08 339.08,151.11 340.28,151.14 341.49,151.16 342.69,151.19 343.90,151.21 345.10,151.24 346.31,151.26 347.52,151.27 348.72,151.29 349.93,151.30 351.13,151.30 352.34,151.31 353.55,151.30 354.75,151.30 355.96,151.29 357.16,151.28 358.37,151.26 359.58,151.24 360.78,151.21 361.99,151.19 363.19,151.16 364.40,151.12 365.61,151.09 366.81,151.05 368.02,151.01 369.22,150.97 370.43,150.93 371.64,150.89 372.84,150.85 374.05,150.81 375.25,150.77 376.46,150.72 377.67,150.68 378.87,150.64 380.08,150.60 381.28,150.56 382.49,150.51 383.70,150.47 384.90,150.43 386.11,150.39 387.31,150.34 388.52,150.29 389.73,150.25 390.93,150.20 392.14,150.15 393.34,150.09 394.55,150.03 395.76,149.97 396.96,149.90 398.17,149.83 399.37,149.76 400.58,149.68 401.78,149.59 402.99,149.50 404.20,149.40 405.40,149.29 406.61,149.17 407.81,149.05 409.02,148.91 410.23,148.76 411.43,148.61 412.64,148.43 413.84,148.25 415.05,148.05 416.26,147.83 417.46,147.60 418.67,147.35 419.87,147.07 421.08,146.78 422.29,146.46 423.49,146.12 424.70,145.74 425.90,145.34 427.11,144.91 428.32,144.44" fill="none" stroke="#fdb515" stroke-width="2.2" stroke-linejoin="round"/>
<rect x="339.38" y="148.56" width="5.6" height="5.6" fill="#fdb515"/>
<rect x="356.60" y="148.43" width="5.6" height="5.6" fill="#fdb515"/>
<rect x="373.83" y="147.80" width="5.6" height="5.6" fill="#fdb515"/>
<rect x="391.06" y="147.30" width="5.6" height="5.6" fill="#fdb515"/>
<rect x="408.29" y="145.54" width="5.6" height="5.6" fill="#fdb515"/>
<rect x="425.52" y="141.26" width="5.6" height="5.6" fill="#fdb515"/>
<polyline points="307.72,148.87 308.93,148.83 310.13,148.78 311.34,148.73 312.54,148.67 313.75,148.61 314.96,148.55 316.16,148.48 317.37,148.41 318.57,148.33 319.78,148.25 320.99,148.16 322.19,148.07 323.40,147.97 324.60,147.87 325.81,147.76 327.02,147.64 328.22,147.52 329.43,147.38 330.63,147.24 331.84,147.09 333.05,146.94 334.25,146.77 335.46,146.59 336.66,146.40 337.87,146.20 339.08,145.98 340.28,145.76 341.49,145.52 342.69,145.26 343.90,144.99 345.10,144.71 346.31,144.41 347.52,144.09 348.72,143.75 349.93,143.40 351.13,143.02 352.34,142.63 353.55,142.21 354.75,141.77 355.96,141.30 357.16,140.82 358.37,140.30 359.58,139.76 360.78,139.20 361.99,138.60 363.19,137.98 364.40,137.33 365.61,136.65 366.81,135.94 368.02,135.19 369.22,134.42 370.43,133.61 371.64,132.77 372.84,131.90 374.05,130.99 375.25,130.06 376.46,129.09 377.67,128.09 378.87,127.05 380.08,125.99 381.28,124.90 382.49,123.77 383.70,122.62 384.90,121.45 386.11,120.25 387.31,119.02 388.52,117.78 389.73,116.52 390.93,115.23 392.14,113.94 393.34,112.63 394.55,111.32 395.76,109.99 396.96,108.67 398.17,107.34 399.37,106.01 400.58,104.69 401.78,103.37 402.99,102.06 404.20,100.76 405.40,99.48 406.61,98.21 407.81,96.96 409.02,95.74 410.23,94.53 411.43,93.35 412.64,92.20 413.84,91.07 415.05,89.97 416.26,88.90 417.46,87.87 418.67,86.86 419.87,85.88 421.08,84.94 422.29,84.03 423.49,83.15 424.70,82.31 425.90,81.50 427.11,80.71 428.32,79.97" fill="none" stroke="#a906dc" stroke-width="2.2" stroke-linejoin="round"/>
<circle cx="307.72" cy="148.97" r="2.9" fill="#a906dc"/>
<circle cx="324.95" cy="146.83" r="2.9" fill="#a906dc"/>
<circle cx="342.18" cy="145.82" r="2.9" fill="#a906dc"/>
<circle cx="359.40" cy="140.16" r="2.9" fill="#a906dc"/>
<circle cx="376.63" cy="127.96" r="2.9" fill="#a906dc"/>
<circle cx="393.86" cy="112.11" r="2.9" fill="#a906dc"/>
<circle cx="411.09" cy="93.61" r="2.9" fill="#a906dc"/>
<circle cx="428.32" cy="79.90" r="2.9" fill="#a906dc"/>
<line x1="284.50" y1="38.20" x2="298.30" y2="38.20" stroke="#a906dc" stroke-width="2.2" />
<circle cx="291.4" cy="38.2" r="2.9" fill="#a906dc"/>
<text x="303.6" y="42.7" font-size="10.1" fill="#000">FAM-m<tspan font-size="6.8" dy="-4.1" dx="0.5">6</tspan><tspan dy="4.1">A-mRNA</tspan></text>
<text x="305.2" y="60.6" font-size="8.25" fill="#000">K<tspan font-size="6.1" dy="1.5">D</tspan><tspan dy="-1.5"> = 3.54 ± 0.51 µM</tspan></text>
<line x1="284.50" y1="84.80" x2="298.30" y2="84.80" stroke="#fdb515" stroke-width="2.2" />
<rect x="288.6" y="82" width="5.6" height="5.6" fill="#fdb515"/>
<text x="306.40" y="88.40" font-size="10" text-anchor="start" font-weight="normal" fill="#000" >FAM-mRNA</text>
<text x="305.2" y="107.6" font-size="8.25" fill="#000">K<tspan font-size="6.1" dy="1.5">D</tspan><tspan dy="-1.5"> &gt; 4.00 µM</tspan></text>
<text x="465.20" y="15.60" font-size="10" text-anchor="start" font-weight="bold" fill="#000" >c</text>
<line x1="503.20" y1="32.15" x2="503.20" y2="164.10" stroke="#000" stroke-width="1.6" />
<line x1="502.40" y1="163.30" x2="679.15" y2="163.30" stroke="#000" stroke-width="1.6" />
<line x1="497.80" y1="33.10" x2="503.20" y2="33.10" stroke="#000" stroke-width="1.9" />
<text x="496.30" y="36.65" font-size="10" text-anchor="end" font-weight="normal" fill="#000" >80</text>
<line x1="497.80" y1="85.25" x2="503.20" y2="85.25" stroke="#000" stroke-width="1.9" />
<text x="496.30" y="88.80" font-size="10" text-anchor="end" font-weight="normal" fill="#000" >40</text>
<line x1="497.80" y1="137.40" x2="503.20" y2="137.40" stroke="#000" stroke-width="1.9" />
<text x="496.30" y="140.95" font-size="10" text-anchor="end" font-weight="normal" fill="#000" >0</text>
<line x1="503.20" y1="163.30" x2="503.20" y2="168.70" stroke="#000" stroke-width="1.9" />
<text x="503.20" y="180.15" font-size="10" text-anchor="middle" font-weight="normal" fill="#000" >-2</text>
<line x1="546.95" y1="163.30" x2="546.95" y2="168.70" stroke="#000" stroke-width="1.9" />
<text x="546.95" y="180.15" font-size="10" text-anchor="middle" font-weight="normal" fill="#000" >-1</text>
<line x1="590.70" y1="163.30" x2="590.70" y2="168.70" stroke="#000" stroke-width="1.9" />
<text x="590.70" y="180.15" font-size="10" text-anchor="middle" font-weight="normal" fill="#000" >0</text>
<line x1="634.45" y1="163.30" x2="634.45" y2="168.70" stroke="#000" stroke-width="1.9" />
<text x="634.45" y="180.15" font-size="10" text-anchor="middle" font-weight="normal" fill="#000" >1</text>
<line x1="678.20" y1="163.30" x2="678.20" y2="168.70" stroke="#000" stroke-width="1.9" />
<text x="678.20" y="180.15" font-size="10" text-anchor="middle" font-weight="normal" fill="#000" >2</text>
<text x="587.00" y="28.90" font-size="9.5" text-anchor="middle" font-weight="bold" fill="#000" >H1</text>
<text x="589.50" y="43.20" font-size="9.8" text-anchor="middle" font-weight="normal" fill="#000" >IC<tspan font-size="5.3" dy="0.3">50</tspan><tspan dy="-0.3"> &gt; 100 µM</tspan></text>
<text x="590.60" y="194.90" font-size="9.6" text-anchor="middle" font-weight="normal" fill="#000" >Log [<tspan font-weight="bold">H1</tspan>] (µM)</text>
<text transform="translate(479.30,97.70) rotate(-90)" font-size="10" text-anchor="middle" fill="#000">Inhibition (%)</text>
<line x1="506.00" y1="137.45" x2="531.60" y2="137.45" stroke="#000" stroke-width="1.3" stroke-dasharray="2.0 1.92"/>
<line x1="531.90" y1="137.50" x2="678.20" y2="137.50" stroke="#4d9cf7" stroke-width="2.3" />
<clipPath id="cc"><rect x="503" y="20" width="176" height="142.7"/></clipPath>
<g>
<circle cx="532.09" cy="143.70" r="2.9" fill="#4d9cf7"/>
<line x1="552.96" y1="140.30" x2="552.96" y2="141.50" stroke="#4d9cf7" stroke-width="1.0" />
<line x1="550.36" y1="140.30" x2="555.56" y2="140.30" stroke="#4d9cf7" stroke-width="1.0" />
<line x1="550.36" y1="141.50" x2="555.56" y2="141.50" stroke="#4d9cf7" stroke-width="1.0" />
<circle cx="552.96" cy="140.90" r="2.9" fill="#4d9cf7"/>
<line x1="573.83" y1="133.10" x2="573.83" y2="145.70" stroke="#4d9cf7" stroke-width="1.0" />
<line x1="571.23" y1="133.10" x2="576.43" y2="133.10" stroke="#4d9cf7" stroke-width="1.0" />
<line x1="571.23" y1="145.70" x2="576.43" y2="145.70" stroke="#4d9cf7" stroke-width="1.0" />
<circle cx="573.83" cy="139.40" r="2.9" fill="#4d9cf7"/>
<line x1="594.71" y1="138.60" x2="594.71" y2="140.20" stroke="#4d9cf7" stroke-width="1.0" />
<line x1="592.11" y1="138.60" x2="597.31" y2="138.60" stroke="#4d9cf7" stroke-width="1.0" />
<line x1="592.11" y1="140.20" x2="597.31" y2="140.20" stroke="#4d9cf7" stroke-width="1.0" />
<circle cx="594.71" cy="139.40" r="2.9" fill="#4d9cf7"/>
<line x1="615.58" y1="139.70" x2="615.58" y2="147.50" stroke="#4d9cf7" stroke-width="1.0" />
<line x1="612.98" y1="139.70" x2="618.18" y2="139.70" stroke="#4d9cf7" stroke-width="1.0" />
<line x1="612.98" y1="147.50" x2="618.18" y2="147.50" stroke="#4d9cf7" stroke-width="1.0" />
<circle cx="615.58" cy="143.60" r="2.9" fill="#4d9cf7"/>
<line x1="636.45" y1="143.90" x2="636.45" y2="147.90" stroke="#4d9cf7" stroke-width="1.0" />
<line x1="633.85" y1="143.90" x2="639.05" y2="143.90" stroke="#4d9cf7" stroke-width="1.0" />
<line x1="633.85" y1="147.90" x2="639.05" y2="147.90" stroke="#4d9cf7" stroke-width="1.0" />
<circle cx="636.45" cy="145.90" r="2.9" fill="#4d9cf7"/>
<line x1="657.33" y1="134.90" x2="657.33" y2="144.90" stroke="#4d9cf7" stroke-width="1.0" />
<line x1="654.73" y1="134.90" x2="659.93" y2="134.90" stroke="#4d9cf7" stroke-width="1.0" />
<line x1="654.73" y1="144.90" x2="659.93" y2="144.90" stroke="#4d9cf7" stroke-width="1.0" />
<circle cx="657.33" cy="139.90" r="2.9" fill="#4d9cf7"/>
<line x1="678.20" y1="139.10" x2="678.20" y2="142.30" stroke="#4d9cf7" stroke-width="1.0" />
<line x1="675.60" y1="139.10" x2="680.80" y2="139.10" stroke="#4d9cf7" stroke-width="1.0" />
<line x1="675.60" y1="142.30" x2="680.80" y2="142.30" stroke="#4d9cf7" stroke-width="1.0" />
<circle cx="678.20" cy="140.70" r="2.9" fill="#4d9cf7"/>
</g>
<line x1="551.60" y1="70.40" x2="562.80" y2="63.90" stroke="#2b2b2b" stroke-width="0.85" stroke-linecap="round"/>
<line x1="554.42" y1="71.65" x2="562.49" y2="66.97" stroke="#2b2b2b" stroke-width="0.85" stroke-linecap="round"/>
<line x1="562.80" y1="63.90" x2="574.00" y2="70.40" stroke="#2b2b2b" stroke-width="0.85" stroke-linecap="round"/>
<line x1="574.00" y1="70.40" x2="574.00" y2="82.70" stroke="#2b2b2b" stroke-width="0.85" stroke-linecap="round"/>
<line x1="571.50" y1="72.12" x2="571.50" y2="80.98" stroke="#2b2b2b" stroke-width="0.85" stroke-linecap="round"/>
<line x1="574.00" y1="82.70" x2="562.80" y2="89.20" stroke="#2b2b2b" stroke-width="0.85" stroke-linecap="round"/>
<line x1="562.80" y1="89.20" x2="551.60" y2="82.70" stroke="#2b2b2b" stroke-width="0.85" stroke-linecap="round"/>
<line x1="562.49" y1="86.13" x2="554.42" y2="81.45" stroke="#2b2b2b" stroke-width="0.85" stroke-linecap="round"/>
<line x1="551.60" y1="82.70" x2="551.60" y2="70.40" stroke="#2b2b2b" stroke-width="0.85" stroke-linecap="round"/>
<line x1="541.59" y1="64.57" x2="551.60" y2="70.40" stroke="#2b2b2b" stroke-width="0.85" stroke-linecap="round"/>
<text x="537.70" y="64.78" font-size="6.9" text-anchor="middle" font-weight="normal" fill="#a0524e" >Br</text>
<line x1="574.00" y1="82.70" x2="585.30" y2="89.20" stroke="#2b2b2b" stroke-width="0.85" stroke-linecap="round"/>
<line x1="585.30" y1="89.20" x2="596.50" y2="82.70" stroke="#2b2b2b" stroke-width="0.85" stroke-linecap="round"/>
<line x1="597.60" y1="82.70" x2="597.60" y2="73.00" stroke="#2b2b2b" stroke-width="0.85" stroke-linecap="round"/>
<line x1="595.40" y1="82.70" x2="595.40" y2="73.00" stroke="#2b2b2b" stroke-width="0.85" stroke-linecap="round"/>
<line x1="596.50" y1="82.70" x2="604.98" y2="87.28" stroke="#2b2b2b" stroke-width="0.85" stroke-linecap="round"/>
<line x1="610.61" y1="87.27" x2="619.00" y2="82.70" stroke="#2b2b2b" stroke-width="0.85" stroke-linecap="round"/>
<line x1="619.00" y1="82.70" x2="630.30" y2="89.20" stroke="#2b2b2b" stroke-width="0.85" stroke-linecap="round"/>
<line x1="630.30" y1="89.20" x2="641.50" y2="82.70" stroke="#2b2b2b" stroke-width="0.85" stroke-linecap="round"/>
<line x1="641.50" y1="82.70" x2="652.70" y2="89.20" stroke="#2b2b2b" stroke-width="0.85" stroke-linecap="round"/>
<line x1="652.70" y1="89.20" x2="652.70" y2="98.80" stroke="#2b2b2b" stroke-width="0.85" stroke-linecap="round"/>
<line x1="649.88" y1="103.81" x2="641.50" y2="108.90" stroke="#2b2b2b" stroke-width="0.85" stroke-linecap="round"/>
<line x1="641.50" y1="108.90" x2="630.30" y2="102.10" stroke="#2b2b2b" stroke-width="0.85" stroke-linecap="round"/>
<line x1="630.30" y1="102.10" x2="630.30" y2="89.20" stroke="#2b2b2b" stroke-width="0.85" stroke-linecap="round"/>
<text x="596.50" y="71.85" font-size="6.8" text-anchor="middle" font-weight="normal" fill="#ee2222" >O</text>
<text x="607.80" y="91.25" font-size="6.8" text-anchor="middle" font-weight="normal" fill="#2222ee" >N</text>
<text x="607.80" y="96.85" font-size="6.8" text-anchor="middle" font-weight="normal" fill="#2222ee" >H</text>
<text x="652.70" y="104.55" font-size="6.8" text-anchor="middle" font-weight="normal" fill="#ee2222" >O</text>
<text x="0.80" y="210.00" font-size="10" text-anchor="start" font-weight="bold" fill="#000" >d</text>
<line x1="42.00" y1="221.85" x2="42.00" y2="354.50" stroke="#000" stroke-width="1.6" />
<line x1="41.20" y1="353.70" x2="218.15" y2="353.70" stroke="#000" stroke-width="1.6" />
<line x1="36.60" y1="222.80" x2="42.00" y2="222.80" stroke="#000" stroke-width="1.9" />
<text x="35.10" y="226.35" font-size="10" text-anchor="end" font-weight="normal" fill="#000" >80</text>
<line x1="36.60" y1="275.20" x2="42.00" y2="275.20" stroke="#000" stroke-width="1.9" />
<text x="35.10" y="278.75" font-size="10" text-anchor="end" font-weight="normal" fill="#000" >40</text>
<line x1="36.60" y1="327.60" x2="42.00" y2="327.60" stroke="#000" stroke-width="1.9" />
<text x="35.10" y="331.15" font-size="10" text-anchor="end" font-weight="normal" fill="#000" >0</text>
<line x1="42.00" y1="353.70" x2="42.00" y2="359.10" stroke="#000" stroke-width="1.9" />
<text x="42.00" y="370.25" font-size="10" text-anchor="middle" font-weight="normal" fill="#000" >-2</text>
<line x1="85.80" y1="353.70" x2="85.80" y2="359.10" stroke="#000" stroke-width="1.9" />
<text x="85.80" y="370.25" font-size="10" text-anchor="middle" font-weight="normal" fill="#000" >-1</text>
<line x1="129.60" y1="353.70" x2="129.60" y2="359.10" stroke="#000" stroke-width="1.9" />
<text x="129.60" y="370.25" font-size="10" text-anchor="middle" font-weight="normal" fill="#000" >0</text>
<line x1="173.40" y1="353.70" x2="173.40" y2="359.10" stroke="#000" stroke-width="1.9" />
<text x="173.40" y="370.25" font-size="10" text-anchor="middle" font-weight="normal" fill="#000" >1</text>
<line x1="217.20" y1="353.70" x2="217.20" y2="359.10" stroke="#000" stroke-width="1.9" />
<text x="217.20" y="370.25" font-size="10" text-anchor="middle" font-weight="normal" fill="#000" >2</text>
<text x="126.10" y="218.30" font-size="9.5" text-anchor="middle" font-weight="bold" fill="#000" >H2</text>
<text x="127.20" y="230.50" font-size="9.7" text-anchor="middle" font-weight="normal" fill="#000" >IC<tspan font-size="5.3" dy="0.3">50</tspan><tspan dy="-0.3"> &gt; 100 µM</tspan></text>
<text x="129.60" y="384.70" font-size="9.9" text-anchor="middle" font-weight="normal" fill="#000" >Log [<tspan font-weight="bold">H2</tspan>] (µM)</text>
<text transform="translate(18.70,287.40) rotate(-90)" font-size="10" text-anchor="middle" fill="#000">Inhibition (%)</text>
<line x1="44.70" y1="327.60" x2="70.00" y2="327.60" stroke="#000" stroke-width="1.3" stroke-dasharray="1.7 2.3"/>
<line x1="70.92" y1="327.40" x2="217.20" y2="327.40" stroke="#4d9cf7" stroke-width="2.0" />
<clipPath id="cd"><rect x="42" y="210" width="177" height="143.1"/></clipPath>
<g>
<line x1="70.92" y1="325.50" x2="70.92" y2="334.50" stroke="#4d9cf7" stroke-width="1.0" />
<line x1="68.32" y1="325.50" x2="73.52" y2="325.50" stroke="#4d9cf7" stroke-width="1.0" />
<line x1="68.32" y1="334.50" x2="73.52" y2="334.50" stroke="#4d9cf7" stroke-width="1.0" />
<circle cx="70.92" cy="330.00" r="2.9" fill="#4d9cf7"/>
<line x1="91.82" y1="329.20" x2="91.82" y2="336.60" stroke="#4d9cf7" stroke-width="1.0" />
<line x1="89.22" y1="329.20" x2="94.42" y2="329.20" stroke="#4d9cf7" stroke-width="1.0" />
<line x1="89.22" y1="336.60" x2="94.42" y2="336.60" stroke="#4d9cf7" stroke-width="1.0" />
<circle cx="91.82" cy="332.90" r="2.9" fill="#4d9cf7"/>
<line x1="112.72" y1="324.30" x2="112.72" y2="331.30" stroke="#4d9cf7" stroke-width="1.0" />
<line x1="110.12" y1="324.30" x2="115.32" y2="324.30" stroke="#4d9cf7" stroke-width="1.0" />
<line x1="110.12" y1="331.30" x2="115.32" y2="331.30" stroke="#4d9cf7" stroke-width="1.0" />
<circle cx="112.72" cy="327.80" r="2.9" fill="#4d9cf7"/>
<line x1="133.61" y1="324.10" x2="133.61" y2="332.10" stroke="#4d9cf7" stroke-width="1.0" />
<line x1="131.01" y1="324.10" x2="136.21" y2="324.10" stroke="#4d9cf7" stroke-width="1.0" />
<line x1="131.01" y1="332.10" x2="136.21" y2="332.10" stroke="#4d9cf7" stroke-width="1.0" />
<circle cx="133.61" cy="328.10" r="2.9" fill="#4d9cf7"/>
<line x1="154.51" y1="328.70" x2="154.51" y2="331.10" stroke="#4d9cf7" stroke-width="1.0" />
<line x1="151.91" y1="328.70" x2="157.11" y2="328.70" stroke="#4d9cf7" stroke-width="1.0" />
<line x1="151.91" y1="331.10" x2="157.11" y2="331.10" stroke="#4d9cf7" stroke-width="1.0" />
<circle cx="154.51" cy="329.90" r="2.9" fill="#4d9cf7"/>
<circle cx="175.41" cy="332.70" r="2.9" fill="#4d9cf7"/>
<circle cx="196.30" cy="332.70" r="2.9" fill="#4d9cf7"/>
<line x1="217.20" y1="343.10" x2="217.20" y2="351.60" stroke="#4d9cf7" stroke-width="1.0" />
<line x1="214.60" y1="343.10" x2="219.80" y2="343.10" stroke="#4d9cf7" stroke-width="1.0" />
<line x1="214.60" y1="351.60" x2="219.80" y2="351.60" stroke="#4d9cf7" stroke-width="1.0" />
<circle cx="217.20" cy="351.60" r="2.9" fill="#4d9cf7"/>
</g>
<line x1="89.20" y1="287.40" x2="89.20" y2="274.30" stroke="#2b2b2b" stroke-width="0.85" stroke-linecap="round"/>
<line x1="89.20" y1="274.30" x2="100.50" y2="267.80" stroke="#2b2b2b" stroke-width="0.85" stroke-linecap="round"/>
<line x1="92.03" y1="275.56" x2="100.16" y2="270.88" stroke="#2b2b2b" stroke-width="0.85" stroke-linecap="round"/>
<line x1="100.50" y1="267.80" x2="111.70" y2="274.30" stroke="#2b2b2b" stroke-width="0.85" stroke-linecap="round"/>
<line x1="111.70" y1="274.30" x2="111.70" y2="287.40" stroke="#2b2b2b" stroke-width="0.85" stroke-linecap="round"/>
<line x1="109.20" y1="276.13" x2="109.20" y2="285.57" stroke="#2b2b2b" stroke-width="0.85" stroke-linecap="round"/>
<line x1="111.70" y1="287.40" x2="100.50" y2="294.00" stroke="#2b2b2b" stroke-width="0.85" stroke-linecap="round"/>
<line x1="100.50" y1="294.00" x2="89.20" y2="287.40" stroke="#2b2b2b" stroke-width="0.85" stroke-linecap="round"/>
<line x1="100.18" y1="290.92" x2="92.04" y2="286.17" stroke="#2b2b2b" stroke-width="0.85" stroke-linecap="round"/>
<line x1="111.70" y1="274.30" x2="122.90" y2="267.80" stroke="#2b2b2b" stroke-width="0.85" stroke-linecap="round"/>
<line x1="122.90" y1="267.80" x2="134.20" y2="274.30" stroke="#2b2b2b" stroke-width="0.85" stroke-linecap="round"/>
<line x1="123.24" y1="270.88" x2="131.37" y2="275.56" stroke="#2b2b2b" stroke-width="0.85" stroke-linecap="round"/>
<line x1="134.20" y1="274.30" x2="134.20" y2="287.40" stroke="#2b2b2b" stroke-width="0.85" stroke-linecap="round"/>
<line x1="134.20" y1="287.40" x2="122.90" y2="294.00" stroke="#2b2b2b" stroke-width="0.85" stroke-linecap="round"/>
<line x1="131.36" y1="286.17" x2="123.22" y2="290.92" stroke="#2b2b2b" stroke-width="0.85" stroke-linecap="round"/>
<line x1="122.90" y1="294.00" x2="111.70" y2="287.40" stroke="#2b2b2b" stroke-width="0.85" stroke-linecap="round"/>
<line x1="80.50" y1="291.13" x2="89.20" y2="287.40" stroke="#2b2b2b" stroke-width="0.85" stroke-linecap="round"/>
<text x="75.90" y="295.55" font-size="6.8" text-anchor="middle" font-weight="normal" fill="#33dd44" >Cl</text>
<line x1="134.20" y1="274.30" x2="145.40" y2="267.80" stroke="#2b2b2b" stroke-width="0.85" stroke-linecap="round"/>
<line x1="146.50" y1="267.80" x2="146.50" y2="257.90" stroke="#2b2b2b" stroke-width="0.85" stroke-linecap="round"/>
<line x1="144.30" y1="267.80" x2="144.30" y2="257.90" stroke="#2b2b2b" stroke-width="0.85" stroke-linecap="round"/>
<line x1="145.40" y1="267.80" x2="153.67" y2="272.20" stroke="#2b2b2b" stroke-width="0.85" stroke-linecap="round"/>
<line x1="159.33" y1="272.21" x2="167.70" y2="267.80" stroke="#2b2b2b" stroke-width="0.85" stroke-linecap="round"/>
<line x1="167.70" y1="267.80" x2="167.70" y2="254.70" stroke="#2b2b2b" stroke-width="0.85" stroke-linecap="round"/>
<line x1="167.70" y1="254.70" x2="178.90" y2="248.20" stroke="#2b2b2b" stroke-width="0.85" stroke-linecap="round"/>
<line x1="178.90" y1="248.20" x2="190.20" y2="254.70" stroke="#2b2b2b" stroke-width="0.85" stroke-linecap="round"/>
<line x1="190.20" y1="254.70" x2="190.20" y2="267.80" stroke="#2b2b2b" stroke-width="0.85" stroke-linecap="round"/>
<line x1="190.20" y1="267.80" x2="178.90" y2="274.30" stroke="#2b2b2b" stroke-width="0.85" stroke-linecap="round"/>
<line x1="178.90" y1="274.30" x2="167.70" y2="267.80" stroke="#2b2b2b" stroke-width="0.85" stroke-linecap="round"/>
<text x="145.40" y="256.75" font-size="6.8" text-anchor="middle" font-weight="normal" fill="#ee2222" >O</text>
<text x="156.50" y="276.15" font-size="6.8" text-anchor="middle" font-weight="normal" fill="#2222ee" >N</text>
<text x="156.50" y="281.75" font-size="6.8" text-anchor="middle" font-weight="normal" fill="#2222ee" >H</text>
<text x="240.20" y="212.90" font-size="10" text-anchor="start" font-weight="bold" fill="#000" >e</text>
<line x1="279.40" y1="222.55" x2="279.40" y2="355.20" stroke="#000" stroke-width="1.6" />
<line x1="278.60" y1="354.40" x2="459.45" y2="354.40" stroke="#000" stroke-width="1.6" />
<line x1="274.00" y1="223.50" x2="279.40" y2="223.50" stroke="#000" stroke-width="1.9" />
<text x="272.50" y="227.05" font-size="10" text-anchor="end" font-weight="normal" fill="#000" >80</text>
<line x1="274.00" y1="275.70" x2="279.40" y2="275.70" stroke="#000" stroke-width="1.9" />
<text x="272.50" y="279.25" font-size="10" text-anchor="end" font-weight="normal" fill="#000" >40</text>
<line x1="274.00" y1="327.90" x2="279.40" y2="327.90" stroke="#000" stroke-width="1.9" />
<text x="272.50" y="331.45" font-size="10" text-anchor="end" font-weight="normal" fill="#000" >0</text>
<line x1="279.40" y1="354.40" x2="279.40" y2="359.80" stroke="#000" stroke-width="1.9" />
<text x="279.40" y="370.95" font-size="10" text-anchor="middle" font-weight="normal" fill="#000" >-2</text>
<line x1="324.17" y1="354.40" x2="324.17" y2="359.80" stroke="#000" stroke-width="1.9" />
<text x="324.17" y="370.95" font-size="10" text-anchor="middle" font-weight="normal" fill="#000" >-1</text>
<line x1="368.95" y1="354.40" x2="368.95" y2="359.80" stroke="#000" stroke-width="1.9" />
<text x="368.95" y="370.95" font-size="10" text-anchor="middle" font-weight="normal" fill="#000" >0</text>
<line x1="413.73" y1="354.40" x2="413.73" y2="359.80" stroke="#000" stroke-width="1.9" />
<text x="413.73" y="370.95" font-size="10" text-anchor="middle" font-weight="normal" fill="#000" >1</text>
<line x1="458.50" y1="354.40" x2="458.50" y2="359.80" stroke="#000" stroke-width="1.9" />
<text x="458.50" y="370.95" font-size="10" text-anchor="middle" font-weight="normal" fill="#000" >2</text>
<text x="357.20" y="217.20" font-size="9.5" text-anchor="middle" font-weight="bold" fill="#000" >H3</text>
<text x="360.70" y="231.90" font-size="9.2" text-anchor="middle" font-weight="normal" fill="#000" >IC<tspan font-size="6.2" dy="1.6">50</tspan><tspan dy="-1.6"> = 16.84 ± 2.04 µM</tspan></text>
<text x="369.50" y="385.80" font-size="9.9" text-anchor="middle" font-weight="normal" fill="#000" >Log [<tspan font-weight="bold">H3</tspan>] (µM)</text>
<text transform="translate(256.10,288.10) rotate(-90)" font-size="10" text-anchor="middle" fill="#000">Inhibition (%)</text>
<line x1="282.20" y1="327.90" x2="458.00" y2="327.90" stroke="#000" stroke-width="1.35" stroke-dasharray="1.75 2.35"/>
<polyline points="295.79,327.62 297.03,327.61 298.27,327.60 299.52,327.58 300.76,327.57 302.01,327.55 303.25,327.54 304.49,327.52 305.74,327.50 306.98,327.48 308.22,327.46 309.47,327.44 310.71,327.41 311.95,327.39 313.20,327.36 314.44,327.33 315.69,327.30 316.93,327.27 318.17,327.23 319.42,327.20 320.66,327.16 321.90,327.12 323.15,327.07 324.39,327.02 325.63,326.97 326.88,326.92 328.12,326.86 329.37,326.80 330.61,326.73 331.85,326.66 333.10,326.59 334.34,326.51 335.58,326.42 336.83,326.33 338.07,326.24 339.31,326.14 340.56,326.03 341.80,325.91 343.05,325.79 344.29,325.66 345.53,325.52 346.78,325.37 348.02,325.22 349.26,325.05 350.51,324.87 351.75,324.68 352.99,324.48 354.24,324.27 355.48,324.04 356.73,323.80 357.97,323.55 359.21,323.28 360.46,322.99 361.70,322.68 362.94,322.36 364.19,322.02 365.43,321.65 366.67,321.27 367.92,320.86 369.16,320.43 370.41,319.97 371.65,319.48 372.89,318.97 374.14,318.43 375.38,317.86 376.62,317.26 377.87,316.62 379.11,315.95 380.35,315.24 381.60,314.50 382.84,313.71 384.09,312.89 385.33,312.02 386.57,311.11 387.82,310.16 389.06,309.16 390.30,308.12 391.55,307.03 392.79,305.89 394.03,304.70 395.28,303.46 396.52,302.16 397.76,300.82 399.01,299.43 400.25,297.98 401.50,296.49 402.74,294.94 403.98,293.35 405.23,291.70 406.47,290.01 407.71,288.27 408.96,286.49 410.20,284.67 411.44,282.81 412.69,280.90 413.93,278.97 415.18,277.00 416.42,275.01 417.66,272.99 418.91,270.95 420.15,268.90 421.39,266.83 422.64,264.76 423.88,262.68 425.12,260.60 426.37,258.52 427.61,256.45 428.86,254.40 430.10,252.36 431.34,250.35 432.59,248.35 433.83,246.39 435.07,244.46 436.32,242.56 437.56,240.70 438.80,238.88 440.05,237.10 441.29,235.36 442.54,233.67 443.78,232.03 445.02,230.44" fill="none" stroke="#4d9cf7" stroke-width="2.0" stroke-linejoin="round"/>
<g>
<line x1="295.49" y1="321.90" x2="295.49" y2="328.10" stroke="#4d9cf7" stroke-width="1.0" />
<line x1="292.89" y1="321.90" x2="298.09" y2="321.90" stroke="#4d9cf7" stroke-width="1.0" />
<line x1="292.89" y1="328.10" x2="298.09" y2="328.10" stroke="#4d9cf7" stroke-width="1.0" />
<circle cx="295.49" cy="325.00" r="2.9" fill="#4d9cf7"/>
<line x1="316.85" y1="321.20" x2="316.85" y2="328.80" stroke="#4d9cf7" stroke-width="1.0" />
<line x1="314.25" y1="321.20" x2="319.45" y2="321.20" stroke="#4d9cf7" stroke-width="1.0" />
<line x1="314.25" y1="328.80" x2="319.45" y2="328.80" stroke="#4d9cf7" stroke-width="1.0" />
<circle cx="316.85" cy="325.00" r="2.9" fill="#4d9cf7"/>
<line x1="338.21" y1="322.20" x2="338.21" y2="327.80" stroke="#4d9cf7" stroke-width="1.0" />
<line x1="335.61" y1="322.20" x2="340.81" y2="322.20" stroke="#4d9cf7" stroke-width="1.0" />
<line x1="335.61" y1="327.80" x2="340.81" y2="327.80" stroke="#4d9cf7" stroke-width="1.0" />
<circle cx="338.21" cy="325.00" r="2.9" fill="#4d9cf7"/>
<line x1="359.57" y1="313.90" x2="359.57" y2="322.70" stroke="#4d9cf7" stroke-width="1.0" />
<line x1="356.97" y1="313.90" x2="362.17" y2="313.90" stroke="#4d9cf7" stroke-width="1.0" />
<line x1="356.97" y1="322.70" x2="362.17" y2="322.70" stroke="#4d9cf7" stroke-width="1.0" />
<circle cx="359.57" cy="318.30" r="2.9" fill="#4d9cf7"/>
<line x1="380.94" y1="306.40" x2="380.94" y2="318.40" stroke="#4d9cf7" stroke-width="1.0" />
<line x1="378.34" y1="306.40" x2="383.54" y2="306.40" stroke="#4d9cf7" stroke-width="1.0" />
<line x1="378.34" y1="318.40" x2="383.54" y2="318.40" stroke="#4d9cf7" stroke-width="1.0" />
<circle cx="380.94" cy="312.40" r="2.9" fill="#4d9cf7"/>
<line x1="402.30" y1="291.40" x2="402.30" y2="306.80" stroke="#4d9cf7" stroke-width="1.0" />
<line x1="399.70" y1="291.40" x2="404.90" y2="291.40" stroke="#4d9cf7" stroke-width="1.0" />
<line x1="399.70" y1="306.80" x2="404.90" y2="306.80" stroke="#4d9cf7" stroke-width="1.0" />
<circle cx="402.30" cy="299.10" r="2.9" fill="#4d9cf7"/>
<line x1="423.66" y1="255.30" x2="423.66" y2="270.70" stroke="#4d9cf7" stroke-width="1.0" />
<line x1="421.06" y1="255.30" x2="426.26" y2="255.30" stroke="#4d9cf7" stroke-width="1.0" />
<line x1="421.06" y1="270.70" x2="426.26" y2="270.70" stroke="#4d9cf7" stroke-width="1.0" />
<circle cx="423.66" cy="263.00" r="2.9" fill="#4d9cf7"/>
<circle cx="445.02" cy="229.00" r="2.9" fill="#4d9cf7"/>
</g>
<line x1="320.50" y1="275.30" x2="320.50" y2="262.10" stroke="#2b2b2b" stroke-width="0.85" stroke-linecap="round"/>
<line x1="318.00" y1="273.45" x2="318.00" y2="263.95" stroke="#2b2b2b" stroke-width="0.85" stroke-linecap="round"/>
<line x1="320.50" y1="262.10" x2="310.10" y2="255.70" stroke="#2b2b2b" stroke-width="0.85" stroke-linecap="round"/>
<line x1="310.10" y1="255.70" x2="299.60" y2="262.10" stroke="#2b2b2b" stroke-width="0.85" stroke-linecap="round"/>
<line x1="309.93" y1="258.73" x2="302.37" y2="263.34" stroke="#2b2b2b" stroke-width="0.85" stroke-linecap="round"/>
<line x1="299.60" y1="262.10" x2="299.60" y2="275.30" stroke="#2b2b2b" stroke-width="0.85" stroke-linecap="round"/>
<line x1="299.60" y1="275.30" x2="310.10" y2="281.70" stroke="#2b2b2b" stroke-width="0.85" stroke-linecap="round"/>
<line x1="302.37" y1="274.06" x2="309.93" y2="278.67" stroke="#2b2b2b" stroke-width="0.85" stroke-linecap="round"/>
<line x1="310.10" y1="281.70" x2="320.50" y2="275.30" stroke="#2b2b2b" stroke-width="0.85" stroke-linecap="round"/>
<line x1="320.50" y1="275.30" x2="332.10" y2="281.70" stroke="#2b2b2b" stroke-width="0.85" stroke-linecap="round"/>
<line x1="332.10" y1="281.70" x2="343.00" y2="275.30" stroke="#2b2b2b" stroke-width="0.85" stroke-linecap="round"/>
<line x1="344.10" y1="275.30" x2="344.10" y2="264.90" stroke="#2b2b2b" stroke-width="0.85" stroke-linecap="round"/>
<line x1="341.90" y1="275.30" x2="341.90" y2="264.90" stroke="#2b2b2b" stroke-width="0.85" stroke-linecap="round"/>
<line x1="343.00" y1="275.30" x2="351.31" y2="279.23" stroke="#2b2b2b" stroke-width="0.85" stroke-linecap="round"/>
<line x1="357.10" y1="279.24" x2="365.50" y2="275.30" stroke="#2b2b2b" stroke-width="0.85" stroke-linecap="round"/>
<line x1="365.50" y1="275.30" x2="365.50" y2="262.10" stroke="#2b2b2b" stroke-width="0.85" stroke-linecap="round"/>
<line x1="365.50" y1="262.10" x2="376.70" y2="255.70" stroke="#2b2b2b" stroke-width="0.85" stroke-linecap="round"/>
<line x1="368.31" y1="263.37" x2="376.37" y2="258.77" stroke="#2b2b2b" stroke-width="0.85" stroke-linecap="round"/>
<line x1="376.70" y1="255.70" x2="387.20" y2="262.10" stroke="#2b2b2b" stroke-width="0.85" stroke-linecap="round"/>
<line x1="387.20" y1="262.10" x2="387.20" y2="275.30" stroke="#2b2b2b" stroke-width="0.85" stroke-linecap="round"/>
<line x1="384.70" y1="263.95" x2="384.70" y2="273.45" stroke="#2b2b2b" stroke-width="0.85" stroke-linecap="round"/>
<line x1="387.20" y1="275.30" x2="376.70" y2="281.70" stroke="#2b2b2b" stroke-width="0.85" stroke-linecap="round"/>
<line x1="376.70" y1="281.70" x2="365.50" y2="275.30" stroke="#2b2b2b" stroke-width="0.85" stroke-linecap="round"/>
<line x1="376.37" y1="278.63" x2="368.31" y2="274.03" stroke="#2b2b2b" stroke-width="0.85" stroke-linecap="round"/>
<line x1="376.70" y1="255.70" x2="376.70" y2="246.00" stroke="#2b2b2b" stroke-width="0.85" stroke-linecap="round"/>
<line x1="376.70" y1="281.70" x2="376.70" y2="289.20" stroke="#2b2b2b" stroke-width="0.85" stroke-linecap="round"/>
<text x="343.00" y="263.75" font-size="6.8" text-anchor="middle" font-weight="normal" fill="#ee2222" >O</text>
<text x="354.20" y="283.05" font-size="6.8" text-anchor="middle" font-weight="normal" fill="#2222ee" >N</text>
<text x="354.20" y="288.65" font-size="6.8" text-anchor="middle" font-weight="normal" fill="#2222ee" >H</text>
<text x="377.20" y="244.45" font-size="6.8" text-anchor="middle" font-weight="normal" fill="#33dd44" >Cl</text>
<text x="378.60" y="295.45" font-size="6.8" text-anchor="middle" font-weight="normal" fill="#ee2222" >OH</text>
<text x="468.80" y="212.40" font-size="10" text-anchor="start" font-weight="bold" fill="#000" >f</text>
<line x1="505.30" y1="222.88" x2="505.30" y2="354.60" stroke="#000" stroke-width="1.4" />
<line x1="504.60" y1="353.90" x2="682.62" y2="353.90" stroke="#000" stroke-width="1.4" />
<line x1="499.90" y1="223.50" x2="505.30" y2="223.50" stroke="#000" stroke-width="1.25" />
<text x="498.40" y="227.05" font-size="10" text-anchor="end" font-weight="normal" fill="#000" >80</text>
<line x1="499.90" y1="275.75" x2="505.30" y2="275.75" stroke="#000" stroke-width="1.25" />
<text x="498.40" y="279.30" font-size="10" text-anchor="end" font-weight="normal" fill="#000" >40</text>
<line x1="499.90" y1="328.00" x2="505.30" y2="328.00" stroke="#000" stroke-width="1.25" />
<text x="498.40" y="331.55" font-size="10" text-anchor="end" font-weight="normal" fill="#000" >0</text>
<line x1="505.30" y1="353.90" x2="505.30" y2="359.30" stroke="#000" stroke-width="1.25" />
<text x="505.30" y="369.75" font-size="10" text-anchor="middle" font-weight="normal" fill="#000" >-2</text>
<line x1="549.48" y1="353.90" x2="549.48" y2="359.30" stroke="#000" stroke-width="1.25" />
<text x="549.48" y="369.75" font-size="10" text-anchor="middle" font-weight="normal" fill="#000" >-1</text>
<line x1="593.65" y1="353.90" x2="593.65" y2="359.30" stroke="#000" stroke-width="1.25" />
<text x="593.65" y="369.75" font-size="10" text-anchor="middle" font-weight="normal" fill="#000" >0</text>
<line x1="637.83" y1="353.90" x2="637.83" y2="359.30" stroke="#000" stroke-width="1.25" />
<text x="637.83" y="369.75" font-size="10" text-anchor="middle" font-weight="normal" fill="#000" >1</text>
<line x1="682.00" y1="353.90" x2="682.00" y2="359.30" stroke="#000" stroke-width="1.25" />
<text x="682.00" y="369.75" font-size="10" text-anchor="middle" font-weight="normal" fill="#000" >2</text>
<text x="583.80" y="218.10" font-size="9.5" text-anchor="middle" font-weight="bold" fill="#000" >H4</text>
<text x="583.80" y="231.40" font-size="9.7" text-anchor="middle" font-weight="normal" fill="#000" >IC<tspan font-size="5.3" dy="0.3">50</tspan><tspan dy="-0.3"> &gt; 100 µM</tspan></text>
<text x="594.00" y="385.10" font-size="9.9" text-anchor="middle" font-weight="normal" fill="#000" >Log [<tspan font-weight="bold">H4</tspan>] (µM)</text>
<text transform="translate(481.00,288.00) rotate(-90)" font-size="10" text-anchor="middle" fill="#000">Inhibition (%)</text>
<line x1="507.90" y1="327.90" x2="533.40" y2="327.90" stroke="#000" stroke-width="1.9" stroke-dasharray="1.9 2.05"/>
<line x1="534.47" y1="328.00" x2="685.00" y2="328.00" stroke="#4d9cf7" stroke-width="2.0" />
<clipPath id="cf"><rect x="505" y="210" width="180" height="143.3"/></clipPath>
<g>
<line x1="534.47" y1="324.00" x2="534.47" y2="336.00" stroke="#4d9cf7" stroke-width="1.0" />
<line x1="531.87" y1="324.00" x2="537.07" y2="324.00" stroke="#4d9cf7" stroke-width="1.0" />
<line x1="531.87" y1="336.00" x2="537.07" y2="336.00" stroke="#4d9cf7" stroke-width="1.0" />
<circle cx="534.47" cy="330.00" r="2.9" fill="#4d9cf7"/>
<line x1="555.54" y1="324.90" x2="555.54" y2="335.10" stroke="#4d9cf7" stroke-width="1.0" />
<line x1="552.94" y1="324.90" x2="558.14" y2="324.90" stroke="#4d9cf7" stroke-width="1.0" />
<line x1="552.94" y1="335.10" x2="558.14" y2="335.10" stroke="#4d9cf7" stroke-width="1.0" />
<circle cx="555.54" cy="330.00" r="2.9" fill="#4d9cf7"/>
<line x1="576.62" y1="331.10" x2="576.62" y2="336.50" stroke="#4d9cf7" stroke-width="1.0" />
<line x1="574.02" y1="331.10" x2="579.22" y2="331.10" stroke="#4d9cf7" stroke-width="1.0" />
<line x1="574.02" y1="336.50" x2="579.22" y2="336.50" stroke="#4d9cf7" stroke-width="1.0" />
<circle cx="576.62" cy="333.80" r="2.9" fill="#4d9cf7"/>
<line x1="597.70" y1="329.50" x2="597.70" y2="335.90" stroke="#4d9cf7" stroke-width="1.0" />
<line x1="595.10" y1="329.50" x2="600.30" y2="329.50" stroke="#4d9cf7" stroke-width="1.0" />
<line x1="595.10" y1="335.90" x2="600.30" y2="335.90" stroke="#4d9cf7" stroke-width="1.0" />
<circle cx="597.70" cy="332.70" r="2.9" fill="#4d9cf7"/>
<circle cx="618.77" cy="333.80" r="2.9" fill="#4d9cf7"/>
<line x1="639.85" y1="327.60" x2="639.85" y2="334.40" stroke="#4d9cf7" stroke-width="1.0" />
<line x1="637.25" y1="327.60" x2="642.45" y2="327.60" stroke="#4d9cf7" stroke-width="1.0" />
<line x1="637.25" y1="334.40" x2="642.45" y2="334.40" stroke="#4d9cf7" stroke-width="1.0" />
<circle cx="639.85" cy="331.00" r="2.9" fill="#4d9cf7"/>
<line x1="660.92" y1="328.50" x2="660.92" y2="334.90" stroke="#4d9cf7" stroke-width="1.0" />
<line x1="658.32" y1="328.50" x2="663.52" y2="328.50" stroke="#4d9cf7" stroke-width="1.0" />
<line x1="658.32" y1="334.90" x2="663.52" y2="334.90" stroke="#4d9cf7" stroke-width="1.0" />
<circle cx="660.92" cy="331.70" r="2.9" fill="#4d9cf7"/>
<line x1="682.00" y1="319.60" x2="682.00" y2="330.20" stroke="#4d9cf7" stroke-width="1.0" />
<line x1="679.40" y1="319.60" x2="684.60" y2="319.60" stroke="#4d9cf7" stroke-width="1.0" />
<line x1="679.40" y1="330.20" x2="684.60" y2="330.20" stroke="#4d9cf7" stroke-width="1.0" />
<circle cx="682.00" cy="324.90" r="2.9" fill="#4d9cf7"/>
</g>
<line x1="556.30" y1="272.40" x2="563.00" y2="261.80" stroke="#2b2b2b" stroke-width="0.85" stroke-linecap="round"/>
<line x1="559.35" y1="272.25" x2="564.18" y2="264.62" stroke="#2b2b2b" stroke-width="0.85" stroke-linecap="round"/>
<line x1="563.00" y1="261.80" x2="575.90" y2="261.80" stroke="#2b2b2b" stroke-width="0.85" stroke-linecap="round"/>
<line x1="575.90" y1="261.80" x2="582.50" y2="272.40" stroke="#2b2b2b" stroke-width="0.85" stroke-linecap="round"/>
<line x1="574.70" y1="264.61" x2="579.45" y2="272.24" stroke="#2b2b2b" stroke-width="0.85" stroke-linecap="round"/>
<line x1="582.50" y1="272.40" x2="575.90" y2="283.20" stroke="#2b2b2b" stroke-width="0.85" stroke-linecap="round"/>
<line x1="575.90" y1="283.20" x2="563.00" y2="283.20" stroke="#2b2b2b" stroke-width="0.85" stroke-linecap="round"/>
<line x1="574.09" y1="280.70" x2="564.81" y2="280.70" stroke="#2b2b2b" stroke-width="0.85" stroke-linecap="round"/>
<line x1="563.00" y1="283.20" x2="556.30" y2="272.40" stroke="#2b2b2b" stroke-width="0.85" stroke-linecap="round"/>
<line x1="544.00" y1="272.40" x2="556.30" y2="272.40" stroke="#2b2b2b" stroke-width="0.85" stroke-linecap="round"/>
<line x1="544.00" y1="272.40" x2="536.87" y2="262.72" stroke="#2b2b2b" stroke-width="0.85" stroke-linecap="round"/>
<line x1="543.09" y1="271.78" x2="538.29" y2="278.87" stroke="#2b2b2b" stroke-width="0.85" stroke-linecap="round"/>
<line x1="544.91" y1="273.02" x2="540.12" y2="280.10" stroke="#2b2b2b" stroke-width="0.85" stroke-linecap="round"/>
<line x1="582.50" y1="272.40" x2="595.20" y2="272.40" stroke="#2b2b2b" stroke-width="0.85" stroke-linecap="round"/>
<line x1="596.18" y1="272.90" x2="600.95" y2="263.43" stroke="#2b2b2b" stroke-width="0.85" stroke-linecap="round"/>
<line x1="594.22" y1="271.90" x2="598.99" y2="262.44" stroke="#2b2b2b" stroke-width="0.85" stroke-linecap="round"/>
<line x1="595.20" y1="272.40" x2="599.82" y2="279.88" stroke="#2b2b2b" stroke-width="0.85" stroke-linecap="round"/>
<line x1="599.92" y1="285.38" x2="595.20" y2="293.70" stroke="#2b2b2b" stroke-width="0.85" stroke-linecap="round"/>
<line x1="595.20" y1="293.70" x2="601.50" y2="305.00" stroke="#2b2b2b" stroke-width="0.85" stroke-linecap="round"/>
<line x1="604.90" y1="282.60" x2="614.20" y2="282.60" stroke="#2b2b2b" stroke-width="0.85" stroke-linecap="round"/>
<line x1="614.20" y1="282.60" x2="620.80" y2="272.40" stroke="#2b2b2b" stroke-width="0.85" stroke-linecap="round"/>
<line x1="620.80" y1="272.40" x2="633.70" y2="272.40" stroke="#2b2b2b" stroke-width="0.85" stroke-linecap="round"/>
<line x1="633.70" y1="272.40" x2="638.62" y2="263.76" stroke="#2b2b2b" stroke-width="0.85" stroke-linecap="round"/>
<line x1="632.76" y1="272.98" x2="637.08" y2="279.98" stroke="#2b2b2b" stroke-width="0.85" stroke-linecap="round"/>
<line x1="634.64" y1="271.82" x2="638.95" y2="278.83" stroke="#2b2b2b" stroke-width="0.85" stroke-linecap="round"/>
<text x="534.50" y="261.95" font-size="6.8" text-anchor="middle" font-weight="normal" fill="#ee2222" >HO</text>
<text x="537.30" y="284.75" font-size="6.8" text-anchor="middle" font-weight="normal" fill="#ee2222" >O</text>
<text x="601.50" y="262.35" font-size="6.8" text-anchor="middle" font-weight="normal" fill="#ee2222" >O</text>
<text x="601.50" y="285.05" font-size="6.8" text-anchor="middle" font-weight="normal" fill="#2222ee" >N</text>
<text x="642.70" y="261.95" font-size="6.8" text-anchor="middle" font-weight="normal" fill="#ee2222" >OH</text>
<text x="639.80" y="284.75" font-size="6.8" text-anchor="middle" font-weight="normal" fill="#ee2222" >O</text>
<text x="2.20" y="412.60" font-size="10" text-anchor="start" font-weight="bold" fill="#000" >g</text>
<line x1="40.30" y1="422.35" x2="40.30" y2="554.18" stroke="#000" stroke-width="1.15" />
<line x1="39.72" y1="553.60" x2="217.15" y2="553.60" stroke="#000" stroke-width="1.15" />
<line x1="34.90" y1="423.00" x2="40.30" y2="423.00" stroke="#000" stroke-width="1.3" />
<text x="33.40" y="426.55" font-size="10" text-anchor="end" font-weight="normal" fill="#000" >80</text>
<line x1="34.90" y1="475.25" x2="40.30" y2="475.25" stroke="#000" stroke-width="1.3" />
<text x="33.40" y="478.80" font-size="10" text-anchor="end" font-weight="normal" fill="#000" >40</text>
<line x1="34.90" y1="527.50" x2="40.30" y2="527.50" stroke="#000" stroke-width="1.3" />
<text x="33.40" y="531.05" font-size="10" text-anchor="end" font-weight="normal" fill="#000" >0</text>
<line x1="40.30" y1="553.60" x2="40.30" y2="559.00" stroke="#000" stroke-width="1.3" />
<text x="40.30" y="569.75" font-size="10" text-anchor="middle" font-weight="normal" fill="#000" >-2</text>
<line x1="84.35" y1="553.60" x2="84.35" y2="559.00" stroke="#000" stroke-width="1.3" />
<text x="84.35" y="569.75" font-size="10" text-anchor="middle" font-weight="normal" fill="#000" >-1</text>
<line x1="128.40" y1="553.60" x2="128.40" y2="559.00" stroke="#000" stroke-width="1.3" />
<text x="128.40" y="569.75" font-size="10" text-anchor="middle" font-weight="normal" fill="#000" >0</text>
<line x1="172.45" y1="553.60" x2="172.45" y2="559.00" stroke="#000" stroke-width="1.3" />
<text x="172.45" y="569.75" font-size="10" text-anchor="middle" font-weight="normal" fill="#000" >1</text>
<line x1="216.50" y1="553.60" x2="216.50" y2="559.00" stroke="#000" stroke-width="1.3" />
<text x="216.50" y="569.75" font-size="10" text-anchor="middle" font-weight="normal" fill="#000" >2</text>
<text x="118.10" y="416.80" font-size="9.5" text-anchor="middle" font-weight="bold" fill="#000" >H5</text>
<text x="120.20" y="430.80" font-size="9.7" text-anchor="middle" font-weight="normal" fill="#000" >IC<tspan font-size="5.3" dy="0.3">50</tspan><tspan dy="-0.3"> &gt; 100 µM</tspan></text>
<text x="128.60" y="585.00" font-size="9.9" text-anchor="middle" font-weight="normal" fill="#000" >Log [<tspan font-weight="bold">H5</tspan>] (µM)</text>
<text transform="translate(17.30,487.50) rotate(-90)" font-size="10" text-anchor="middle" fill="#000">Inhibition (%)</text>
<line x1="43.20" y1="527.50" x2="68.50" y2="527.50" stroke="#000" stroke-width="1.15" stroke-dasharray="1.5 2.53"/>
<line x1="69.39" y1="527.50" x2="216.50" y2="527.50" stroke="#4d9cf7" stroke-width="1.25" />
<clipPath id="cg"><rect x="40" y="410" width="178" height="143"/></clipPath>
<g>
<line x1="69.39" y1="527.70" x2="69.39" y2="537.50" stroke="#4d9cf7" stroke-width="1.0" />
<line x1="66.79" y1="527.70" x2="71.99" y2="527.70" stroke="#4d9cf7" stroke-width="1.0" />
<line x1="66.79" y1="537.50" x2="71.99" y2="537.50" stroke="#4d9cf7" stroke-width="1.0" />
<circle cx="69.39" cy="532.60" r="2.9" fill="#4d9cf7"/>
<line x1="90.40" y1="527.90" x2="90.40" y2="534.50" stroke="#4d9cf7" stroke-width="1.0" />
<line x1="87.80" y1="527.90" x2="93.00" y2="527.90" stroke="#4d9cf7" stroke-width="1.0" />
<line x1="87.80" y1="534.50" x2="93.00" y2="534.50" stroke="#4d9cf7" stroke-width="1.0" />
<circle cx="90.40" cy="531.20" r="2.9" fill="#4d9cf7"/>
<line x1="111.42" y1="528.20" x2="111.42" y2="534.20" stroke="#4d9cf7" stroke-width="1.0" />
<line x1="108.82" y1="528.20" x2="114.02" y2="528.20" stroke="#4d9cf7" stroke-width="1.0" />
<line x1="108.82" y1="534.20" x2="114.02" y2="534.20" stroke="#4d9cf7" stroke-width="1.0" />
<circle cx="111.42" cy="531.20" r="2.9" fill="#4d9cf7"/>
<line x1="132.43" y1="528.30" x2="132.43" y2="529.90" stroke="#4d9cf7" stroke-width="1.0" />
<line x1="129.83" y1="528.30" x2="135.03" y2="528.30" stroke="#4d9cf7" stroke-width="1.0" />
<line x1="129.83" y1="529.90" x2="135.03" y2="529.90" stroke="#4d9cf7" stroke-width="1.0" />
<circle cx="132.43" cy="529.10" r="2.9" fill="#4d9cf7"/>
<circle cx="153.45" cy="526.70" r="2.9" fill="#4d9cf7"/>
<circle cx="174.47" cy="532.60" r="2.9" fill="#4d9cf7"/>
<line x1="195.48" y1="528.70" x2="195.48" y2="530.30" stroke="#4d9cf7" stroke-width="1.0" />
<line x1="192.88" y1="528.70" x2="198.08" y2="528.70" stroke="#4d9cf7" stroke-width="1.0" />
<line x1="192.88" y1="530.30" x2="198.08" y2="530.30" stroke="#4d9cf7" stroke-width="1.0" />
<circle cx="195.48" cy="529.50" r="2.9" fill="#4d9cf7"/>
<line x1="216.50" y1="519.80" x2="216.50" y2="530.00" stroke="#4d9cf7" stroke-width="1.0" />
<line x1="213.90" y1="519.80" x2="219.10" y2="519.80" stroke="#4d9cf7" stroke-width="1.0" />
<line x1="213.90" y1="530.00" x2="219.10" y2="530.00" stroke="#4d9cf7" stroke-width="1.0" />
<circle cx="216.50" cy="524.90" r="2.9" fill="#4d9cf7"/>
</g>
<line x1="82.90" y1="494.30" x2="82.90" y2="481.50" stroke="#2b2b2b" stroke-width="0.85" stroke-linecap="round"/>
<line x1="82.90" y1="481.50" x2="94.20" y2="475.10" stroke="#2b2b2b" stroke-width="0.85" stroke-linecap="round"/>
<line x1="94.20" y1="475.10" x2="105.50" y2="481.50" stroke="#2b2b2b" stroke-width="0.85" stroke-linecap="round"/>
<line x1="105.50" y1="481.50" x2="105.50" y2="494.30" stroke="#2b2b2b" stroke-width="0.85" stroke-linecap="round"/>
<line x1="105.50" y1="494.30" x2="94.20" y2="500.70" stroke="#2b2b2b" stroke-width="0.85" stroke-linecap="round"/>
<line x1="94.20" y1="500.70" x2="82.90" y2="494.30" stroke="#2b2b2b" stroke-width="0.85" stroke-linecap="round"/>
<line x1="82.33" y1="493.36" x2="74.64" y2="498.00" stroke="#2b2b2b" stroke-width="0.85" stroke-linecap="round"/>
<line x1="83.47" y1="495.24" x2="75.78" y2="499.88" stroke="#2b2b2b" stroke-width="0.85" stroke-linecap="round"/>
<line x1="105.50" y1="481.50" x2="116.60" y2="475.10" stroke="#2b2b2b" stroke-width="0.85" stroke-linecap="round"/>
<line x1="116.60" y1="475.10" x2="116.60" y2="462.40" stroke="#2b2b2b" stroke-width="0.85" stroke-linecap="round"/>
<line x1="116.60" y1="462.40" x2="128.00" y2="456.00" stroke="#2b2b2b" stroke-width="0.85" stroke-linecap="round"/>
<line x1="119.42" y1="463.68" x2="127.63" y2="459.08" stroke="#2b2b2b" stroke-width="0.85" stroke-linecap="round"/>
<line x1="128.00" y1="456.00" x2="139.30" y2="462.40" stroke="#2b2b2b" stroke-width="0.85" stroke-linecap="round"/>
<line x1="139.30" y1="462.40" x2="139.30" y2="475.10" stroke="#2b2b2b" stroke-width="0.85" stroke-linecap="round"/>
<line x1="136.80" y1="464.18" x2="136.80" y2="473.32" stroke="#2b2b2b" stroke-width="0.85" stroke-linecap="round"/>
<line x1="139.30" y1="475.10" x2="128.00" y2="481.50" stroke="#2b2b2b" stroke-width="0.85" stroke-linecap="round"/>
<line x1="128.00" y1="481.50" x2="116.60" y2="475.10" stroke="#2b2b2b" stroke-width="0.85" stroke-linecap="round"/>
<line x1="127.63" y1="478.42" x2="119.42" y2="473.82" stroke="#2b2b2b" stroke-width="0.85" stroke-linecap="round"/>
<line x1="139.30" y1="462.40" x2="150.40" y2="456.00" stroke="#2b2b2b" stroke-width="0.85" stroke-linecap="round"/>
<line x1="151.50" y1="456.00" x2="151.50" y2="446.30" stroke="#2b2b2b" stroke-width="0.85" stroke-linecap="round"/>
<line x1="149.30" y1="456.00" x2="149.30" y2="446.30" stroke="#2b2b2b" stroke-width="0.85" stroke-linecap="round"/>
<line x1="150.40" y1="456.00" x2="158.59" y2="460.47" stroke="#2b2b2b" stroke-width="0.85" stroke-linecap="round"/>
<line x1="164.23" y1="460.50" x2="172.70" y2="456.00" stroke="#2b2b2b" stroke-width="0.85" stroke-linecap="round"/>
<line x1="172.70" y1="456.00" x2="183.60" y2="462.40" stroke="#2b2b2b" stroke-width="0.85" stroke-linecap="round"/>
<text x="72.30" y="503.15" font-size="6.8" text-anchor="middle" font-weight="normal" fill="#ee2222" >O</text>
<text x="150.40" y="445.15" font-size="6.8" text-anchor="middle" font-weight="normal" fill="#ee2222" >O</text>
<text x="161.40" y="464.45" font-size="6.8" text-anchor="middle" font-weight="normal" fill="#2222ee" >N</text>
<text x="161.40" y="470.05" font-size="6.8" text-anchor="middle" font-weight="normal" fill="#2222ee" >H</text>
<text x="261.60" y="415.30" font-size="9" text-anchor="start" font-weight="bold" fill="#000" textLength="4.6" lengthAdjust="spacingAndGlyphs">h</text>
<text x="311.5" y="428.7" font-size="8.8" fill="#000">(<tspan font-weight="bold">H3</tspan>) IC<tspan font-size="6" dy="1.5">50</tspan><tspan dy="-1.5"> = 16.84 µM</tspan></text>
<line x1="319.20" y1="464.80" x2="319.20" y2="478.00" stroke="#151515" stroke-width="1.0" stroke-linecap="round"/>
<line x1="319.20" y1="478.00" x2="307.70" y2="484.90" stroke="#151515" stroke-width="1.0" stroke-linecap="round"/>
<line x1="316.30" y1="476.82" x2="308.02" y2="481.79" stroke="#151515" stroke-width="1.0" stroke-linecap="round"/>
<line x1="307.70" y1="484.90" x2="296.10" y2="478.00" stroke="#151515" stroke-width="1.0" stroke-linecap="round"/>
<line x1="296.10" y1="478.00" x2="296.10" y2="464.80" stroke="#151515" stroke-width="1.0" stroke-linecap="round"/>
<line x1="298.60" y1="476.15" x2="298.60" y2="466.65" stroke="#151515" stroke-width="1.0" stroke-linecap="round"/>
<line x1="296.10" y1="464.80" x2="307.70" y2="458.00" stroke="#151515" stroke-width="1.0" stroke-linecap="round"/>
<line x1="307.70" y1="458.00" x2="319.20" y2="464.80" stroke="#151515" stroke-width="1.0" stroke-linecap="round"/>
<line x1="308.04" y1="461.10" x2="316.32" y2="466.00" stroke="#151515" stroke-width="1.0" stroke-linecap="round"/>
<line x1="319.20" y1="464.80" x2="331.00" y2="458.00" stroke="#151515" stroke-width="1.0" stroke-linecap="round"/>
<line x1="331.00" y1="458.00" x2="342.70" y2="464.80" stroke="#151515" stroke-width="1.0" stroke-linecap="round"/>
<line x1="341.45" y1="464.80" x2="341.45" y2="473.80" stroke="#151515" stroke-width="1.0" stroke-linecap="round"/>
<line x1="343.95" y1="464.80" x2="343.95" y2="473.80" stroke="#151515" stroke-width="1.0" stroke-linecap="round"/>
<line x1="342.70" y1="464.80" x2="351.91" y2="459.04" stroke="#151515" stroke-width="1.0" stroke-linecap="round"/>
<line x1="358.08" y1="459.06" x2="367.10" y2="464.80" stroke="#151515" stroke-width="1.0" stroke-linecap="round"/>
<line x1="367.10" y1="464.80" x2="379.10" y2="458.00" stroke="#151515" stroke-width="1.0" stroke-linecap="round"/>
<line x1="370.01" y1="466.02" x2="378.65" y2="461.13" stroke="#151515" stroke-width="1.0" stroke-linecap="round"/>
<line x1="379.10" y1="458.00" x2="391.20" y2="464.80" stroke="#151515" stroke-width="1.0" stroke-linecap="round"/>
<line x1="391.20" y1="464.80" x2="391.20" y2="478.00" stroke="#151515" stroke-width="1.0" stroke-linecap="round"/>
<line x1="388.70" y1="466.65" x2="388.70" y2="476.15" stroke="#151515" stroke-width="1.0" stroke-linecap="round"/>
<line x1="391.20" y1="478.00" x2="379.10" y2="484.90" stroke="#151515" stroke-width="1.0" stroke-linecap="round"/>
<line x1="379.10" y1="484.90" x2="367.10" y2="478.00" stroke="#151515" stroke-width="1.0" stroke-linecap="round"/>
<line x1="378.67" y1="481.77" x2="370.03" y2="476.80" stroke="#151515" stroke-width="1.0" stroke-linecap="round"/>
<line x1="367.10" y1="478.00" x2="367.10" y2="464.80" stroke="#151515" stroke-width="1.0" stroke-linecap="round"/>
<line x1="379.10" y1="458.00" x2="379.10" y2="446.45" stroke="#151515" stroke-width="1.0" stroke-linecap="round"/>
<line x1="379.10" y1="484.90" x2="379.10" y2="494.25" stroke="#151515" stroke-width="1.0" stroke-linecap="round"/>
<text x="342.70" y="480.34" font-size="7.6" text-anchor="middle" font-weight="bold" fill="#ee1111" >O</text>
<text x="355.00" y="459.84" font-size="7.6" text-anchor="middle" font-weight="bold" fill="#1111ee" >N</text>
<text x="355.00" y="452.74" font-size="7.6" text-anchor="middle" font-weight="bold" fill="#1111ee" >H</text>
<text x="381.90" y="445.24" font-size="7.6" text-anchor="middle" font-weight="bold" fill="#ee1111" >OH</text>
<text x="380.30" y="500.94" font-size="7.6" text-anchor="middle" font-weight="bold" fill="#22dd33" >Cl</text>
<line x1="420.20" y1="475.40" x2="445.00" y2="475.40" stroke="#4472c4" stroke-width="1.2" />
<path d="M443,471.7 L450.9,475.4 L443,479.1Z" fill="#4472c4"/>
<ellipse cx="507.8" cy="474.7" rx="27.7" ry="31.3" fill="#f59bec"/>
<ellipse cx="581.2" cy="474.1" rx="18.2" ry="47.8" fill="#fbb98c"/>
<line x1="514.00" y1="469.30" x2="514.00" y2="485.00" stroke="#151515" stroke-width="1.1" stroke-linecap="round"/>
<line x1="514.00" y1="485.00" x2="500.20" y2="492.70" stroke="#151515" stroke-width="1.1" stroke-linecap="round"/>
<line x1="510.65" y1="483.55" x2="500.72" y2="489.09" stroke="#151515" stroke-width="1.1" stroke-linecap="round"/>
<line x1="500.20" y1="492.70" x2="486.40" y2="485.00" stroke="#151515" stroke-width="1.1" stroke-linecap="round"/>
<line x1="486.40" y1="485.00" x2="486.40" y2="469.30" stroke="#151515" stroke-width="1.1" stroke-linecap="round"/>
<line x1="489.30" y1="482.80" x2="489.30" y2="471.50" stroke="#151515" stroke-width="1.1" stroke-linecap="round"/>
<line x1="486.40" y1="469.30" x2="500.20" y2="461.60" stroke="#151515" stroke-width="1.1" stroke-linecap="round"/>
<line x1="500.20" y1="461.60" x2="514.00" y2="469.30" stroke="#151515" stroke-width="1.1" stroke-linecap="round"/>
<line x1="500.72" y1="465.21" x2="510.65" y2="470.75" stroke="#151515" stroke-width="1.1" stroke-linecap="round"/>
<line x1="514.00" y1="469.30" x2="526.90" y2="461.60" stroke="#151515" stroke-width="1.1" stroke-linecap="round"/>
<line x1="526.90" y1="461.60" x2="540.00" y2="469.30" stroke="#151515" stroke-width="1.1" stroke-linecap="round"/>
<line x1="538.55" y1="469.30" x2="538.55" y2="479.45" stroke="#151515" stroke-width="1.1" stroke-linecap="round"/>
<line x1="541.45" y1="469.30" x2="541.45" y2="479.45" stroke="#151515" stroke-width="1.1" stroke-linecap="round"/>
<line x1="540.00" y1="469.30" x2="550.01" y2="462.32" stroke="#151515" stroke-width="1.1" stroke-linecap="round"/>
<line x1="556.44" y1="462.26" x2="567.00" y2="469.30" stroke="#151515" stroke-width="1.1" stroke-linecap="round"/>
<line x1="567.00" y1="469.30" x2="580.50" y2="461.60" stroke="#151515" stroke-width="1.1" stroke-linecap="round"/>
<line x1="570.33" y1="470.74" x2="580.05" y2="465.20" stroke="#151515" stroke-width="1.1" stroke-linecap="round"/>
<line x1="580.50" y1="461.60" x2="593.90" y2="469.30" stroke="#151515" stroke-width="1.1" stroke-linecap="round"/>
<line x1="593.90" y1="469.30" x2="593.90" y2="485.00" stroke="#151515" stroke-width="1.1" stroke-linecap="round"/>
<line x1="591.00" y1="471.50" x2="591.00" y2="482.80" stroke="#151515" stroke-width="1.1" stroke-linecap="round"/>
<line x1="593.90" y1="485.00" x2="580.50" y2="492.70" stroke="#151515" stroke-width="1.1" stroke-linecap="round"/>
<line x1="580.50" y1="492.70" x2="567.00" y2="485.00" stroke="#151515" stroke-width="1.1" stroke-linecap="round"/>
<line x1="580.05" y1="489.10" x2="570.33" y2="483.56" stroke="#151515" stroke-width="1.1" stroke-linecap="round"/>
<line x1="567.00" y1="485.00" x2="567.00" y2="469.30" stroke="#151515" stroke-width="1.1" stroke-linecap="round"/>
<line x1="580.50" y1="461.60" x2="580.50" y2="448.91" stroke="#151515" stroke-width="1.1" stroke-linecap="round"/>
<line x1="580.50" y1="492.70" x2="580.50" y2="502.29" stroke="#151515" stroke-width="1.1" stroke-linecap="round"/>
<text x="540.00" y="486.42" font-size="8.1" text-anchor="middle" font-weight="bold" fill="#ee1111" >O</text>
<text x="553.20" y="463.02" font-size="8.1" text-anchor="middle" font-weight="bold" fill="#1111ee" >N</text>
<text x="553.20" y="455.12" font-size="8.1" text-anchor="middle" font-weight="bold" fill="#1111ee" >H</text>
<text x="583.00" y="447.62" font-size="8.1" text-anchor="middle" font-weight="bold" fill="#ee1111" >OH</text>
<text x="581.20" y="509.42" font-size="8.1" text-anchor="middle" font-weight="bold" fill="#22dd33" >Cl</text>
<text x="498.6" y="524" font-size="8.8" text-anchor="middle" fill="#e960d8">Region <tspan font-family="Liberation Serif, serif">I</tspan> (R<tspan font-size="5" dy="-2.4">1</tspan><tspan dy="2.4">)</tspan></text>
<text x="585.2" y="535" font-size="9.1" text-anchor="middle" fill="#eeb238"><tspan font-family="Liberation Serif, serif">Region II</tspan> (R<tspan font-size="5" dy="-2.4">2</tspan><tspan dy="2.4">)</tspan></text>
</svg>
</body></html>
